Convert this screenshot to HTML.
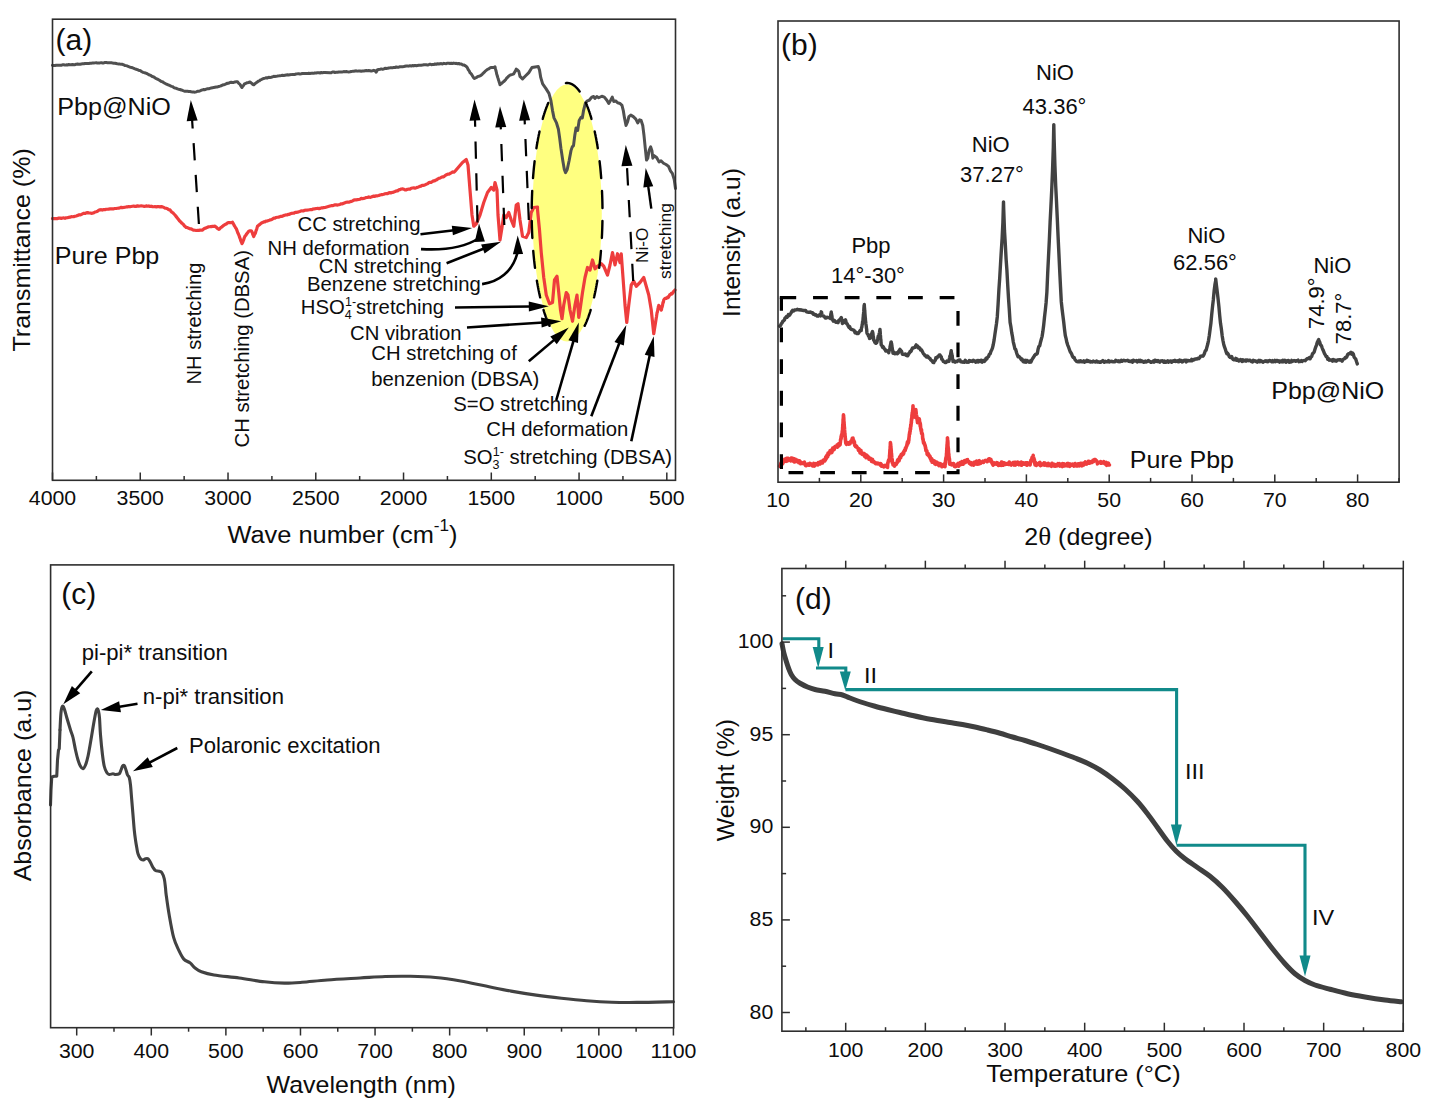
<!DOCTYPE html>
<html lang="en">
<head>
<meta charset="utf-8">
<title>Figure: FTIR, XRD, UV-vis and TGA of Pbp and Pbp@NiO</title>
<style>
html,body{margin:0;padding:0;background:#fff;}
svg{display:block;font-family:"Liberation Sans", sans-serif;}
</style>
</head>
<body>
<svg width="1435" height="1112" viewBox="0 0 1435 1112">
<rect x="0" y="0" width="1435" height="1112" fill="#ffffff"/>
<ellipse cx="567.1" cy="213" rx="34.7" ry="128.6" fill="#ffff80"/>
<polyline points="52.5,65.32 53.75,65.62 55,65.52 56.25,65.21 57.5,65.28 58.75,65.2 60,65.24 61.25,65.26 62.5,64.85 63.75,64.76 65,65.11 66.25,64.86 67.5,64.96 68.75,64.53 70,64.69 71.25,64.78 72.5,64.48 73.75,64.78 75,64.7 76.25,64.17 77.5,64.08 78.75,64.24 80,64.34 81.25,63.97 82.5,63.8 83.75,63.8 85,63.51 86.25,63.52 87.5,63.53 88.75,63.47 90,63.24 91.25,63.15 92.5,63.05 93.75,63.07 95,62.89 96.25,62.72 97.5,63.09 98.75,62.9 100,62.9 101.25,62.63 102.5,63 103.75,62.89 105,62.48 106.25,62.54 107.5,62.69 108.75,62.65 110,62.72 111.25,62.66 112.5,63.07 113.75,63.19 115,63.2 116.25,63.54 117.5,63.89 118.75,64.07 120,64.1 121.25,64.34 122.5,64.27 123.64,64.76 124.77,65.42 125.91,65.62 127.05,65.88 128.18,66.46 129.32,66.92 130.45,67.29 131.59,67.53 132.73,67.95 133.86,68.37 135,68.89 136.15,69.24 137.31,69.66 138.46,70.19 139.62,70.44 140.77,70.93 141.92,71.74 143.08,72.36 144.23,72.64 145.38,73.02 146.54,73.39 147.69,74.04 148.85,74.76 150,75.14 151.14,75.66 152.27,76.45 153.41,76.78 154.55,77.55 155.68,78.41 156.82,78.86 157.95,79.43 159.09,79.98 160.23,80.75 161.36,81.59 162.5,81.75 163.64,82.69 164.77,83.25 165.91,83.83 167.05,84.3 168.18,84.88 169.32,85.28 170.45,85.85 171.59,86.33 172.73,86.69 173.86,87.64 175,88.03 176.25,88.26 177.5,88.81 178.75,89.21 180,89.55 181.25,89.95 182.5,90.46 183.75,90.91 185,91.31 186.25,91.32 187.5,91.2 188.75,91.4 190,91.46 191.25,91.76 192.5,91.99 193.75,92.06 195,92.15 196.25,91.85 197.5,91.25 198.75,91.23 200,90.84 201.25,90.23 202.5,89.88 203.75,89.57 205,89.63 206.25,89.1 207.5,88.76 208.75,88.75 210,88.34 211.25,87.93 212.5,87.7 213.75,87.62 215,87.17 216.25,86.95 217.5,86.9 218.75,86.5 220,86.16 221.25,85.77 222.5,85.07 223.75,84.79 225,84.34 226.25,83.75 227.5,83.24 228.75,83.17 230,82.51 231.25,82.27 232.5,82.39 233.75,82.41 235,81.93 236.25,81.84 237.5,81.82 238.75,83.36 240,84.33 240.67,85.6 241.33,86.59 242,87.52 242.83,86.11 243.67,85.24 244.5,83.9 245.88,83.32 247.25,82.74 248.62,82.51 250,81.95 250.94,82.79 251.88,83.41 252.81,84.32 253.75,84.78 255,83.65 256.25,82.73 257.29,82.06 258.33,81.15 259.38,80.8 260.42,79.91 261.46,79.59 262.5,78.87 263.75,78.46 265,78.13 266.25,77.75 267.5,77.94 268.75,77.27 270,77.41 271.25,77.23 272.5,76.79 273.75,76.34 275,76.43 276.25,76.36 277.5,76.1 278.75,75.88 280,75.69 281.25,75.55 282.5,75.35 283.75,75.46 285,75.22 286.25,74.97 287.5,74.8 288.75,74.96 290,74.65 291.25,74.62 292.5,74.41 293.75,74.56 295,74.45 296.25,73.88 297.5,73.85 298.75,73.79 300,73.99 301.25,73.83 302.5,73.54 303.75,73.42 305,73.59 306.25,73.61 307.5,73.59 308.75,73.23 310,73.44 311.25,73.28 312.5,73.12 313.75,73.31 315,72.87 316.25,73.05 317.5,72.67 318.75,72.65 320,72.96 321.25,72.54 322.5,72.75 323.75,72.61 325,72.5 330,72.82 331.25,72.75 332.5,72.06 333.75,72.02 335,72.48 336.25,72.35 337.5,72.24 338.75,71.93 340,72.07 341.25,72.01 342.5,71.93 343.75,71.57 345,71.7 346.25,71.61 347.5,71.78 348.75,71.91 350,71.81 351.25,71.47 352.5,71.34 353.75,71.15 355,70.93 356.25,70.87 357.5,71.13 358.75,70.98 360,70.98 361.25,71.29 362.5,70.99 363.75,70.96 365,70.69 366.25,70.49 367.5,70.66 368.75,70.48 370,70.69 371.25,70.99 372.5,70.72 373.75,70.32 375,70.78 376.25,72.21 376.88,70.91 377.5,69.78 378.75,69.52 380,69.37 381.25,68.9 382.5,69.17 383.75,68.99 385,68.26 386.25,68.51 387.5,68.32 388.75,67.97 390,67.85 391.25,67.66 392.5,67.8 393.75,67.38 395,67.48 396.25,67.02 397.5,67.27 398.75,67.15 400,66.72 401.25,66.67 402.5,66.79 403.75,66.53 405,66.24 406.25,65.97 407.5,65.95 408.75,66.13 410,65.67 411.25,66.1 412.5,65.56 413.75,65.93 415,65.42 416.25,65.78 417.5,65.52 418.75,65.29 420,65.21 421.25,65.22 422.5,65.09 423.75,64.81 425,64.65 426.25,64.77 427.5,64.98 428.75,64.67 430,64.2 431.25,64.65 432.5,64.5 433.75,64.55 435,63.97 436.25,64.28 437.5,63.72 438.75,64.06 440,63.72 441.25,63.61 442.5,63.98 443.75,63.37 445,63.58 446.25,63.73 447.5,63.23 448.75,63.13 450,63.52 451.25,63.26 452.5,63.53 453.75,63.11 455,63.4 456.25,63.33 457.5,63.75 458.75,63.4 460,64.07 461.25,63.92 462.5,64.91 463.75,64.91 465,65.58 466.25,66.47 466.88,67.05 467.5,68.11 468.12,69.51 468.75,70.34 469.38,71.14 470,72.84 470.75,73.3 471.5,74.26 472.25,75.52 473,76.75 473.75,77.88 474.5,78.48 476,77.76 477.5,76.67 478.75,76.3 480,75.85 481.25,75.17 482.19,74.34 483.12,73.3 484.06,72.44 485,71.39 486.25,70.42 487.5,69.43 488.75,68.93 490,67.87 491.25,67.47 492.5,67.46 493.75,67.51 495,66.74 495.33,68.39 495.67,69.59 496,71.01 496.33,72.08 496.67,73.99 497,74.83 497.38,76.32 497.75,77.44 498.12,78.41 498.5,80.04 498.88,81 499.25,82.19 499.62,83.42 500,84.76 500.94,83.78 501.88,83.22 502.81,82.19 503.75,81.59 504.69,80.62 505.62,79.72 506.56,78.25 507.5,77.46 508.75,76.08 510,75.06 511.25,74.67 512.5,74.38 513.75,73.9 514.38,72.52 515,71.57 515.62,70.58 516.25,69.15 517.5,70.05 518.75,71.25 520,76.37 522.52,78.88 525.67,75.74 528.81,72.59 531.96,67.55 535.11,66.92 538.26,66.55 539.51,70.07 540.77,77.63 542.66,83.92 545.81,88.33 548.96,93.36 550.85,100.29 552.48,110.36 553.99,117.91 556.51,122.95 558.4,129.24 559.66,138.06 560.92,148.13 562.81,160.72 564.32,169.53 565.58,172.68 567.21,169.53 569.1,160.72 570.99,150.65 572.25,146.87 573.51,145.61 574.77,135.54 576.03,127.99 577.66,130.5 579.17,120.43 581.06,117.28 582.32,117.91 583.58,110.36 585.47,102.81 587.36,100.92 589.24,100.29 591.76,97.14 593.65,96.51 594.91,98.4 596.8,96.51 598.69,97.77 601.83,96.26 604.35,97.14 606.87,100.29 608.76,103.44 610.65,100.29 612.28,97.14 613.79,101.55 615.68,100.92 617.57,102.81 620.09,103.44 621.98,105.32 623.24,110.36 624.5,117.91 626.01,125.47 627.64,121.69 628.9,116.65 630.79,115.14 633.31,116.65 635.83,119.17 637.72,122.95 639.6,119.8 641.12,120.43 642.75,125.47 644.01,135.54 645.27,148.13 646.53,160.09 647.79,158.2 649.05,150.65 650.68,146.87 651.94,150.65 652.82,158.2 654.08,155.68 656.6,157.57 659.12,161.98 661.01,160.72 663.53,163.24 666.04,164.5 668.56,166.38 670.45,170.79 672.34,173.31 674.23,179.6 675.49,188.42" fill="none" stroke="#505050" stroke-width="3" stroke-linejoin="round" stroke-linecap="round" />
<polyline points="52.5,218.59 53.75,218.7 55,218.52 56.25,218.59 57.5,218.53 58.75,218.11 60,218.01 61.25,218.43 62.5,218.01 63.75,217.92 65,218.3 66.25,217.76 67.5,217.76 68.75,217.33 70,217.21 71.25,216.7 72.5,216.77 73.75,216.69 75,216.26 76.25,216.02 77.5,215.6 78.75,214.86 80,214.9 81.25,214.43 82.5,213.88 83.75,213.34 85,213.47 86.25,212.86 87.5,212.63 88.75,212.91 90,213 91.25,213.32 92.5,213.19 93.75,212.81 95,211.97 96.25,211.76 97.5,211.23 98.75,210.26 100,209.78 101.25,209.71 102.5,210.03 103.75,209.59 105,209.58 106.25,209.26 107.5,209.25 108.75,209.06 110,208.91 111.25,208.93 112.5,208.8 113.75,208.82 115,208.51 116.25,208.48 117.5,208.26 118.75,208.17 120,207.8 121.25,207.32 122.5,207.57 123.75,207.45 125,207.24 126.25,206.94 127.5,206.93 128.75,206.53 130,206.8 131.25,206.54 132.5,206.27 133.75,206.04 135,206.41 136.25,206.39 137.5,205.75 138.75,206.21 140,206 141.25,205.87 142.5,205.98 143.75,206.29 145,206.37 146.25,205.9 147.5,206.27 148.75,205.95 150,206.38 151.25,206.22 152.5,206.63 153.75,206.76 155,206.55 156.25,206.92 157.5,206.59 158.75,206.52 160,206.91 161.25,206.64 162.5,206.82 163.75,207.44 165,208.07 166.25,208.29 167.5,208.73 168.75,209.72 170,209.89 171,211.28 172,212.24 173,212.93 174,213.98 175,215.01 175.83,216.13 176.67,217.14 177.5,218.16 178.33,219.24 179.17,220.47 180,221.25 180.89,222.1 181.79,223.17 182.68,223.77 183.57,224.7 184.46,226 185.36,226.62 186.25,227.53 187.5,227.64 188.75,228.31 190,228.83 191.25,228.93 192.5,229.71 193.75,230.15 195,230.24 196.25,230.49 197.5,230.31 198.75,230.36 200,230.08 201.25,230.21 202.5,230.14 203.75,228.96 205,228.24 206.25,227.86 207.5,227.28 208.75,226.73 210,226.72 211.25,226.68 212.5,226.39 213.75,226.29 215,226.14 215.94,226.98 216.88,227.93 217.81,228.57 218.75,229.43 219.69,228.85 220.62,227.59 221.56,227.1 222.5,226.39 223.75,225.32 225,224.46 226.25,223.99 227.5,222.84 228.75,222.69 230,222.71 231.25,222.74 232.5,222.26 233.12,223.43 233.75,224.48 234.38,225.83 235,226.63 235.62,227.92 236.25,228.55 236.75,229.9 237.25,231.34 237.75,232.73 238.25,233.72 238.75,234.84 239.21,236.02 239.68,237.52 240.14,238.56 240.61,240.18 241.07,241.45 241.54,242.31 242,243.62 242.5,242.68 243,241.34 243.5,240.18 244,238.66 244.5,237.28 245,236.13 245.75,235.43 246.5,234.11 247.25,233.16 248,232.2 248.75,231.2 250,230.82 251.25,230.75 251.75,231.44 252.25,232.5 252.75,234.22 253.25,235.33 253.75,236.54 254.33,234.96 254.92,234.02 255.5,232.76 255.9,231.08 256.3,230.15 256.7,228.95 257.1,227.6 257.5,226.26 258.5,225.37 259.5,224.65 260.5,223.84 261.5,222.99 262.5,222.55 263.64,221.96 264.77,221.87 265.91,221 267.05,221.11 268.18,220.57 269.32,220.3 270.45,219.87 271.59,219.47 272.73,218.86 273.86,218.12 275,218.15 276.19,217.48 277.38,217.24 278.57,217.13 279.76,216.73 280.95,216.34 282.14,216.33 283.33,215.82 284.52,215.33 285.71,214.96 286.9,215 288.1,214.45 289.29,214.31 290.48,213.73 291.67,213.32 292.86,213.2 294.05,213.05 295.24,212.34 296.43,212.39 297.62,212.15 298.81,211.76 300,211.44 301.19,210.78 302.38,210.97 303.57,210.93 304.76,210.27 305.95,210.22 307.14,210.04 308.33,210.02 309.52,209.78 310.71,209.63 311.9,209.63 313.1,208.99 314.29,208.84 315.48,208.7 316.67,208.52 317.86,208.31 319.05,208.68 320.24,208.43 321.43,207.79 322.62,207.86 323.81,207.57 325,207.5 330,206.04 331.25,205.68 332.5,205.67 333.75,205.22 335,204.9 336.25,204.92 337.5,205.08 338.75,204.74 340,204.46 341.25,203.78 342.5,203.78 343.75,203.2 345,202.74 346.25,202.31 347.5,202.02 348.75,202.22 350,201.76 351.25,201.37 352.5,200.99 353.75,200.13 355,199.85 356.25,199.85 357.5,199.69 358.75,199.53 360,199.3 361.25,198.42 362.5,198.58 363.75,198.39 365,198 366.25,197.49 367.5,197.48 368.75,196.92 370,197.35 371.25,197.04 372.5,196.54 373.75,196.09 375,196.33 376.25,195.81 377.5,195.81 378.75,195.53 380,195.01 381.25,194.68 382.5,194.58 383.75,194.19 385,193.73 386.25,193.59 387.5,193.75 388.75,192.88 390,192.64 391.25,192.85 392.5,192.32 393.75,192.06 395,191.54 396.25,190.97 397.5,191.02 398.75,189.91 400,189.62 401.25,188.98 402.5,188.86 403.75,189.2 405,189.88 406.25,189.89 407.5,189.23 408.75,189.11 410,189.07 411.25,188.22 412.5,187.98 413.75,187.91 415,188.13 416.25,187.8 417.5,187.29 418.64,186.91 419.77,186.33 420.91,186.1 422.05,185.32 423.18,185.39 424.32,185.09 425.45,184.68 426.59,184.05 427.73,183.78 428.86,182.57 430,182.33 431.14,182.37 432.27,181.72 433.41,180.93 434.55,180.85 435.68,180.1 436.82,179.75 437.95,178.83 439.09,178.25 440.23,177.96 441.36,177.21 442.5,176.91 443.64,176.85 444.77,175.82 445.91,175.04 447.05,174.54 448.18,174.12 449.32,174.09 450.45,173.23 451.59,172.65 452.73,171.97 453.86,172.16 455,171.25 462.5,162.5 466.25,159.5 468,165 470,190 472,215 473.75,226.25 476.25,223.75 480,215 483.75,202.5 487.5,192.5 491.25,187.5 493.75,190 495,182.5 497,190 498,215 500,240 502,227.5 503.75,215 506.25,217.5 508.75,212.5 511.25,220 513.75,226.25 516.25,205 518,203.75 520,220 522.5,236.25 526.25,237.5 528.75,232.5 531.25,212.5 533.75,207.5 537.5,207 537.5,209.5 539.5,230 541.25,252.5 543.75,277.5 546.25,295 549.5,303.75 552.5,302.5 554.5,280 557,276.25 558.75,292.5 560.5,310 562,318.75 563.75,305 566.25,292.5 568,295 570,310 572.5,321.25 575,305 577,295 578.75,317.5 580,310 582.5,292.5 585,277.5 587.5,267.5 590,270 592.5,260 595,268.75 597.5,266.25 601.25,263.75 603.75,266.25 607.5,275 610,265 612.5,252.5 615,265 617.5,253.75 620,262.5 621.25,253.75 623,277.5 625,305 626.75,322.5 628.75,305 631.25,285 633.75,281.25 636.25,286.25 640,282.5 643.75,277.5 646.25,286.25 648.75,295 651.25,310 653.75,333.75 656.25,318.03 656.46,317.04 656.67,315.39 656.88,313.95 657.08,312.43 657.29,312.58 657.5,311.2 657.71,310.68 657.92,308.94 658.12,308.61 658.33,306.67 658.54,306.59 658.75,305.41 659.25,305.85 659.75,307.07 660.25,308.33 660.75,308.45 661.25,310.1 661.5,309.55 661.75,307.58 662,307.55 662.25,306.33 662.5,305.62 662.75,303.7 663,302.27 663.25,302.54 663.5,301.55 663.75,299.9 664.69,298.64 665.62,298.2 666.56,298.37 667.5,297.12 668.25,297.56 669,296.16 669.75,294.71 670.5,294.78 671.25,293.5 672,293.78 672.75,292.99 673.5,291.53 674.25,291.01 675,290" fill="none" stroke="#ee3d3d" stroke-width="3.2" stroke-linejoin="round" stroke-linecap="round" />
<polyline points="602.5,213 602.5,212.48 602.5,211.96 602.5,211.44 602.5,210.92 602.49,210.4 602.49,209.88 602.49,209.36 602.48,208.84 602.48,208.32 602.47,207.8 602.47,207.28 602.46,206.76 602.45,206.24 602.44,205.72 602.44,205.2 602.43,204.69 602.42,204.17 602.41,203.65 602.4,203.13 602.39,202.61 602.38,202.09 602.36,201.57 602.35,201.06 602.34,200.54 602.32,200.02 602.31,199.5 602.29,198.99 602.28,198.47 602.26,197.95 602.25,197.44 602.23,196.92 602.21,196.41 602.19,195.89 602.17,195.37 602.15,194.86 602.13,194.34 602.11,193.83 602.09,193.32 602.07,192.8 602.05,192.29 602.03,191.78 602,191.26 601.98,190.75 601.95,190.24 601.93,189.73 601.9,189.21 601.88,188.7 601.85,188.19 601.82,187.68 601.79,187.17 601.77,186.66 601.74,186.15 601.71,185.65 601.68,185.14 601.65,184.63 601.62,184.12 601.58,183.62 601.55,183.11 601.52,182.6 601.49,182.1 601.45,181.59 601.42,181.09 601.38,180.59 601.35,180.08 601.31,179.58 601.27,179.08 601.24,178.58 601.2,178.07 601.16,177.57 601.12,177.07 601.08,176.57 601.04,176.08 601,175.58 600.96,175.08 600.92,174.58 600.88,174.09 600.83,173.59 600.79,173.09 600.75,172.6 600.7,172.11 600.66,171.61 600.61,171.12 600.57,170.63 600.52,170.14 600.47,169.65 600.43,169.16 600.38,168.67 600.33,168.18 600.28,167.69 600.23,167.2 600.18,166.72 600.13,166.23 600.08,165.75 600.03,165.26 599.97,164.78 599.92,164.3 599.87,163.82 599.81,163.34 599.76,162.85 599.71,162.38 599.65,161.9 599.59,161.42 599.54,160.94 599.48,160.47 599.42,159.99 599.37,159.52 599.31,159.04 599.25,158.57 599.19,158.1 599.13,157.63 599.07,157.16 599.01,156.69 598.94,156.22 598.88,155.75 598.82,155.29 598.76,154.82 598.69,154.36 598.63,153.89 598.56,153.43 598.5,152.97 598.43,152.51 598.37,152.05 598.3,151.59 598.23,151.13 598.17,150.67 598.1,150.22 598.03,149.76 597.96,149.31 597.89,148.86 597.82,148.41 597.75,147.95 597.68,147.51 597.61,147.06 597.54,146.61 597.46,146.16 597.39,145.72 597.32,145.27 597.24,144.83 597.17,144.39 597.09,143.95 597.02,143.51 596.94,143.07 596.87,142.63 596.79,142.19 596.71,141.76 596.63,141.32 596.55,140.89 596.48,140.46 596.4,140.03 596.32,139.6 596.24,139.17 596.16,138.74 596.07,138.31 595.99,137.89 595.91,137.47 595.83,137.04 595.75,136.62 595.66,136.2 595.58,135.78 595.49,135.36 595.41,134.95 595.32,134.53 595.24,134.12 595.15,133.71 595.07,133.29 594.98,132.88 594.89,132.48 594.8,132.07 594.71,131.66 594.63,131.26 594.54,130.85 594.45,130.45 594.36,130.05 594.27,129.65 594.18,129.25 594.08,128.85 593.99,128.46 593.9,128.06 593.81,127.67 593.71,127.28 593.62,126.89 593.53,126.5 593.43,126.11 593.34,125.73 593.24,125.34 593.15,124.96 593.05,124.58 592.95,124.2 592.86,123.82 592.76,123.44 592.66,123.06 592.56,122.69 592.46,122.32 592.37,121.94 592.27,121.57 592.17,121.2 592.07,120.84 591.97,120.47 591.86,120.11 591.76,119.74 591.66,119.38 591.56,119.02 591.46,118.66 591.35,118.31 591.25,117.95 591.15,117.6 591.04,117.24 590.94,116.89 590.83,116.54 590.73,116.2 590.62,115.85 590.52,115.51 590.41,115.16 590.3,114.82 590.2,114.48 590.09,114.14 589.98,113.81 589.87,113.47 589.76,113.14 589.66,112.8 589.55,112.47 589.44,112.14 589.33,111.82 589.22,111.49 589.1,111.17 588.99,110.85 588.88,110.52 588.77,110.21 588.66,109.89 588.55,109.57 588.43,109.26 588.32,108.95 588.21,108.63 588.09,108.32 587.98,108.02 587.86,107.71 587.75,107.41 587.63,107.1 587.52,106.8 587.4,106.51 587.29,106.21 587.17,105.91 587.05,105.62 586.94,105.33 586.82,105.04 586.7,104.75 586.58,104.46 586.46,104.17 586.35,103.89 586.23,103.61 586.11,103.33 585.99,103.05 585.87,102.77 585.75,102.5 585.63,102.23 585.51,101.95 585.39,101.69 585.26,101.42 585.14,101.15 585.02,100.89 584.9,100.63 584.78,100.36 584.65,100.11 584.53,99.85 584.41,99.59 584.28,99.34 584.16,99.09 584.03,98.84 583.91,98.59 583.79,98.35 583.66,98.1 583.53,97.86 583.41,97.62 583.28,97.38 583.16,97.14 583.03,96.91 582.9,96.68 582.78,96.44 582.65,96.21 582.52,95.99 582.4,95.76 582.27,95.54 582.14,95.32 582.01,95.1 581.88,94.88 581.75,94.66 581.63,94.45 581.5,94.23 581.37,94.02 581.24,93.82 581.11,93.61 580.98,93.4 580.85,93.2 580.72,93 580.58,92.8 580.45,92.6 580.32,92.41 580.19,92.22 580.06,92.02 579.93,91.83 579.8,91.65 579.66,91.46 579.53,91.28 579.4,91.1 579.27,90.92 579.13,90.74 579,90.56 578.87,90.39 578.73,90.22 578.6,90.05 578.46,89.88 578.33,89.71 578.2,89.55 578.06,89.39 577.93,89.23 577.79,89.07 577.66,88.91 577.52,88.76 577.39,88.61 577.25,88.46 577.11,88.31 576.98,88.16 576.84,88.02 576.71,87.88 576.57,87.74 576.43,87.6 576.3,87.46 576.16,87.33 576.02,87.2 575.89,87.07 575.75,86.94 575.61,86.81 575.47,86.69 575.34,86.57 575.2,86.45 575.06,86.33 574.92,86.21 574.78,86.1 574.65,85.99 574.51,85.88 574.37,85.77 574.23,85.66 574.09,85.56 573.95,85.46 573.81,85.36 573.67,85.26 573.54,85.17 573.4,85.07 573.26,84.98 573.12,84.89 572.98,84.8 572.84,84.72 572.7,84.64 572.56,84.55 572.42,84.48 572.28,84.4 572.14,84.32 572,84.25 571.86,84.18 571.72,84.11 571.58,84.04 571.44,83.98 571.3,83.92 571.15,83.86 571.01,83.8 570.87,83.74 570.73,83.69 570.59,83.63 570.45,83.58 570.31,83.54 570.17,83.49 570.03,83.45 569.89,83.4 569.75,83.36 569.6,83.33 569.46,83.29 569.32,83.26 569.18,83.22 569.04,83.2 568.9,83.17 568.76,83.14 568.61,83.12 568.47,83.1 568.33,83.08 568.19,83.06 568.05,83.05 567.91,83.03 567.77,83.02 567.62,83.01 567.48,83.01 567.34,83 567.2,83 567.06,83 566.92,83 566.77,83.01 566.63,83.01 566.49,83.02 566.35,83.03 566.21,83.04 566.07,83.06 565.92,83.07 565.78,83.09 565.64,83.11 565.5,83.13 565.36,83.16 565.22,83.18 565.08,83.21 564.93,83.24 564.79,83.28 564.65,83.31 564.51,83.35 564.37,83.39 564.23,83.43 564.09,83.47 563.95,83.52 563.81,83.56 563.66,83.61 563.52,83.67 563.38,83.72 563.24,83.77 563.1,83.83 562.96,83.89" fill="none" stroke="#000" stroke-width="2.4" stroke-linejoin="round" stroke-linecap="round" stroke-dasharray="17 13" stroke-dashoffset="25"/>
<polyline points="602.5,213 602.5,213.52 602.5,214.04 602.5,214.56 602.5,215.08 602.49,215.6 602.49,216.12 602.49,216.64 602.48,217.16 602.48,217.68 602.47,218.2 602.47,218.72 602.46,219.24 602.45,219.76 602.44,220.28 602.44,220.8 602.43,221.31 602.42,221.83 602.41,222.35 602.4,222.87 602.39,223.39 602.38,223.91 602.36,224.43 602.35,224.94 602.34,225.46 602.32,225.98 602.31,226.5 602.29,227.01 602.28,227.53 602.26,228.05 602.25,228.56 602.23,229.08 602.21,229.59 602.19,230.11 602.17,230.63 602.15,231.14 602.13,231.66 602.11,232.17 602.09,232.68 602.07,233.2 602.05,233.71 602.03,234.22 602,234.74 601.98,235.25 601.95,235.76 601.93,236.27 601.9,236.79 601.88,237.3 601.85,237.81 601.82,238.32 601.79,238.83 601.77,239.34 601.74,239.85 601.71,240.35 601.68,240.86 601.65,241.37 601.62,241.88 601.58,242.38 601.55,242.89 601.52,243.4 601.49,243.9 601.45,244.41 601.42,244.91 601.38,245.41 601.35,245.92 601.31,246.42 601.27,246.92 601.24,247.42 601.2,247.93 601.16,248.43 601.12,248.93 601.08,249.43 601.04,249.92 601,250.42 600.96,250.92 600.92,251.42 600.88,251.91 600.83,252.41 600.79,252.91 600.75,253.4 600.7,253.89 600.66,254.39 600.61,254.88 600.57,255.37 600.52,255.86 600.47,256.35 600.43,256.84 600.38,257.33 600.33,257.82 600.28,258.31 600.23,258.8 600.18,259.28 600.13,259.77 600.08,260.25 600.03,260.74 599.97,261.22 599.92,261.7 599.87,262.18 599.81,262.66 599.76,263.15 599.71,263.62 599.65,264.1 599.59,264.58 599.54,265.06 599.48,265.53 599.42,266.01 599.37,266.48 599.31,266.96 599.25,267.43 599.19,267.9 599.13,268.37 599.07,268.84 599.01,269.31 598.94,269.78 598.88,270.25 598.82,270.71 598.76,271.18 598.69,271.64 598.63,272.11 598.56,272.57 598.5,273.03 598.43,273.49 598.37,273.95 598.3,274.41 598.23,274.87 598.17,275.33 598.1,275.78 598.03,276.24 597.96,276.69 597.89,277.14 597.82,277.59 597.75,278.05 597.68,278.49 597.61,278.94 597.54,279.39 597.46,279.84 597.39,280.28 597.32,280.73 597.24,281.17 597.17,281.61 597.09,282.05 597.02,282.49 596.94,282.93 596.87,283.37 596.79,283.81 596.71,284.24 596.63,284.68 596.55,285.11 596.48,285.54 596.4,285.97 596.32,286.4 596.24,286.83 596.16,287.26 596.07,287.69 595.99,288.11 595.91,288.53 595.83,288.96 595.75,289.38 595.66,289.8 595.58,290.22 595.49,290.64 595.41,291.05 595.32,291.47 595.24,291.88 595.15,292.29 595.07,292.71 594.98,293.12 594.89,293.52 594.8,293.93 594.71,294.34 594.63,294.74 594.54,295.15 594.45,295.55 594.36,295.95 594.27,296.35 594.18,296.75 594.08,297.15 593.99,297.54 593.9,297.94 593.81,298.33 593.71,298.72 593.62,299.11 593.53,299.5 593.43,299.89 593.34,300.27 593.24,300.66 593.15,301.04 593.05,301.42 592.95,301.8 592.86,302.18 592.76,302.56 592.66,302.94 592.56,303.31 592.46,303.68 592.37,304.06 592.27,304.43 592.17,304.8 592.07,305.16 591.97,305.53 591.86,305.89 591.76,306.26 591.66,306.62 591.56,306.98 591.46,307.34 591.35,307.69 591.25,308.05 591.15,308.4 591.04,308.76 590.94,309.11 590.83,309.46 590.73,309.8 590.62,310.15 590.52,310.49 590.41,310.84 590.3,311.18 590.2,311.52 590.09,311.86 589.98,312.19 589.87,312.53 589.76,312.86 589.66,313.2 589.55,313.53 589.44,313.86 589.33,314.18 589.22,314.51 589.1,314.83 588.99,315.15 588.88,315.48 588.77,315.79 588.66,316.11 588.55,316.43 588.43,316.74 588.32,317.05 588.21,317.37 588.09,317.68 587.98,317.98 587.86,318.29 587.75,318.59 587.63,318.9 587.52,319.2 587.4,319.49 587.29,319.79 587.17,320.09 587.05,320.38 586.94,320.67 586.82,320.96 586.7,321.25 586.58,321.54 586.46,321.83 586.35,322.11 586.23,322.39 586.11,322.67 585.99,322.95 585.87,323.23 585.75,323.5 585.63,323.77 585.51,324.05 585.39,324.31 585.26,324.58 585.14,324.85 585.02,325.11 584.9,325.37 584.78,325.64 584.65,325.89 584.53,326.15 584.41,326.41 584.28,326.66 584.16,326.91" fill="none" stroke="#000" stroke-width="2.4" stroke-linejoin="round" stroke-linecap="round" stroke-dasharray="17 13" stroke-dashoffset="22"/>
<polyline points="531.7,213 531.7,212.48 531.7,211.96 531.7,211.44 531.7,210.92 531.71,210.4 531.71,209.88 531.71,209.36 531.72,208.84 531.72,208.32 531.73,207.8 531.73,207.28 531.74,206.76 531.75,206.24 531.76,205.72 531.76,205.2 531.77,204.69 531.78,204.17 531.79,203.65 531.8,203.13 531.81,202.61 531.82,202.09 531.84,201.57 531.85,201.06 531.86,200.54 531.88,200.02 531.89,199.5 531.91,198.99 531.92,198.47 531.94,197.95 531.95,197.44 531.97,196.92 531.99,196.41 532.01,195.89 532.03,195.37 532.05,194.86 532.07,194.34 532.09,193.83 532.11,193.32 532.13,192.8 532.15,192.29 532.17,191.78 532.2,191.26 532.22,190.75 532.25,190.24 532.27,189.73 532.3,189.21 532.32,188.7 532.35,188.19 532.38,187.68 532.41,187.17 532.43,186.66 532.46,186.15 532.49,185.65 532.52,185.14 532.55,184.63 532.58,184.12 532.62,183.62 532.65,183.11 532.68,182.6 532.71,182.1 532.75,181.59 532.78,181.09 532.82,180.59 532.85,180.08 532.89,179.58 532.93,179.08 532.96,178.58 533,178.07 533.04,177.57 533.08,177.07 533.12,176.57 533.16,176.08 533.2,175.58 533.24,175.08 533.28,174.58 533.32,174.09 533.37,173.59 533.41,173.09 533.45,172.6 533.5,172.11 533.54,171.61 533.59,171.12 533.63,170.63 533.68,170.14 533.73,169.65 533.77,169.16 533.82,168.67 533.87,168.18 533.92,167.69 533.97,167.2 534.02,166.72 534.07,166.23 534.12,165.75 534.17,165.26 534.23,164.78 534.28,164.3 534.33,163.82 534.39,163.34 534.44,162.85 534.49,162.38 534.55,161.9 534.61,161.42 534.66,160.94 534.72,160.47 534.78,159.99 534.83,159.52 534.89,159.04 534.95,158.57 535.01,158.1 535.07,157.63 535.13,157.16 535.19,156.69 535.26,156.22 535.32,155.75 535.38,155.29 535.44,154.82 535.51,154.36 535.57,153.89 535.64,153.43 535.7,152.97 535.77,152.51 535.83,152.05 535.9,151.59 535.97,151.13 536.03,150.67 536.1,150.22 536.17,149.76 536.24,149.31 536.31,148.86 536.38,148.41 536.45,147.95 536.52,147.51 536.59,147.06 536.66,146.61 536.74,146.16 536.81,145.72 536.88,145.27 536.96,144.83 537.03,144.39 537.11,143.95 537.18,143.51 537.26,143.07 537.33,142.63 537.41,142.19 537.49,141.76 537.57,141.32 537.65,140.89 537.72,140.46 537.8,140.03 537.88,139.6 537.96,139.17 538.04,138.74 538.13,138.31 538.21,137.89 538.29,137.47 538.37,137.04 538.45,136.62 538.54,136.2 538.62,135.78 538.71,135.36 538.79,134.95 538.88,134.53 538.96,134.12 539.05,133.71 539.13,133.29 539.22,132.88 539.31,132.48 539.4,132.07 539.49,131.66 539.57,131.26 539.66,130.85 539.75,130.45 539.84,130.05 539.93,129.65 540.02,129.25 540.12,128.85 540.21,128.46 540.3,128.06 540.39,127.67 540.49,127.28 540.58,126.89 540.67,126.5 540.77,126.11 540.86,125.73 540.96,125.34 541.05,124.96 541.15,124.58 541.25,124.2 541.34,123.82 541.44,123.44 541.54,123.06 541.64,122.69 541.74,122.32 541.83,121.94 541.93,121.57 542.03,121.2 542.13,120.84 542.23,120.47 542.34,120.11 542.44,119.74 542.54,119.38 542.64,119.02 542.74,118.66 542.85,118.31 542.95,117.95 543.05,117.6 543.16,117.24 543.26,116.89 543.37,116.54 543.47,116.2 543.58,115.85 543.68,115.51 543.79,115.16 543.9,114.82 544,114.48 544.11,114.14 544.22,113.81 544.33,113.47 544.44,113.14 544.54,112.8 544.65,112.47 544.76,112.14 544.87,111.82 544.98,111.49 545.1,111.17 545.21,110.85 545.32,110.52 545.43,110.21 545.54,109.89 545.65,109.57 545.77,109.26 545.88,108.95 545.99,108.63 546.11,108.32 546.22,108.02 546.34,107.71 546.45,107.41 546.57,107.1 546.68,106.8 546.8,106.51 546.91,106.21 547.03,105.91 547.15,105.62 547.26,105.33 547.38,105.04 547.5,104.75 547.62,104.46 547.74,104.17 547.85,103.89 547.97,103.61 548.09,103.33 548.21,103.05 548.33,102.77 548.45,102.5 548.57,102.23 548.69,101.95" fill="none" stroke="#000" stroke-width="2.4" stroke-linejoin="round" stroke-linecap="round" stroke-dasharray="17 13" stroke-dashoffset="25"/>
<polyline points="531.7,213 531.7,213.52 531.7,214.04 531.7,214.56 531.7,215.08 531.71,215.6 531.71,216.12 531.71,216.64 531.72,217.16 531.72,217.68 531.73,218.2 531.73,218.72 531.74,219.24 531.75,219.76 531.76,220.28 531.76,220.8 531.77,221.31 531.78,221.83 531.79,222.35 531.8,222.87 531.81,223.39 531.82,223.91 531.84,224.43 531.85,224.94 531.86,225.46 531.88,225.98 531.89,226.5 531.91,227.01 531.92,227.53 531.94,228.05 531.95,228.56 531.97,229.08 531.99,229.59 532.01,230.11 532.03,230.63 532.05,231.14 532.07,231.66 532.09,232.17 532.11,232.68 532.13,233.2 532.15,233.71 532.17,234.22 532.2,234.74 532.22,235.25 532.25,235.76 532.27,236.27 532.3,236.79 532.32,237.3 532.35,237.81 532.38,238.32 532.41,238.83 532.43,239.34 532.46,239.85 532.49,240.35 532.52,240.86 532.55,241.37 532.58,241.88 532.62,242.38 532.65,242.89 532.68,243.4 532.71,243.9 532.75,244.41 532.78,244.91 532.82,245.41 532.85,245.92 532.89,246.42 532.93,246.92 532.96,247.42 533,247.93 533.04,248.43 533.08,248.93 533.12,249.43 533.16,249.92 533.2,250.42 533.24,250.92 533.28,251.42 533.32,251.91 533.37,252.41 533.41,252.91 533.45,253.4 533.5,253.89 533.54,254.39 533.59,254.88 533.63,255.37 533.68,255.86 533.73,256.35 533.77,256.84 533.82,257.33 533.87,257.82 533.92,258.31 533.97,258.8 534.02,259.28 534.07,259.77 534.12,260.25 534.17,260.74 534.23,261.22 534.28,261.7 534.33,262.18 534.39,262.66 534.44,263.15 534.49,263.62 534.55,264.1 534.61,264.58 534.66,265.06 534.72,265.53 534.78,266.01 534.83,266.48 534.89,266.96 534.95,267.43 535.01,267.9 535.07,268.37 535.13,268.84 535.19,269.31 535.26,269.78 535.32,270.25 535.38,270.71 535.44,271.18 535.51,271.64 535.57,272.11 535.64,272.57 535.7,273.03 535.77,273.49 535.83,273.95 535.9,274.41 535.97,274.87 536.03,275.33 536.1,275.78 536.17,276.24 536.24,276.69 536.31,277.14 536.38,277.59 536.45,278.05 536.52,278.49 536.59,278.94 536.66,279.39 536.74,279.84 536.81,280.28 536.88,280.73 536.96,281.17 537.03,281.61 537.11,282.05 537.18,282.49 537.26,282.93 537.33,283.37 537.41,283.81 537.49,284.24 537.57,284.68 537.65,285.11 537.72,285.54 537.8,285.97 537.88,286.4 537.96,286.83 538.04,287.26 538.13,287.69 538.21,288.11 538.29,288.53 538.37,288.96 538.45,289.38 538.54,289.8 538.62,290.22 538.71,290.64 538.79,291.05 538.88,291.47 538.96,291.88 539.05,292.29 539.13,292.71 539.22,293.12 539.31,293.52 539.4,293.93 539.49,294.34 539.57,294.74 539.66,295.15 539.75,295.55 539.84,295.95 539.93,296.35 540.02,296.75 540.12,297.15 540.21,297.54 540.3,297.94 540.39,298.33 540.49,298.72 540.58,299.11 540.67,299.5 540.77,299.89 540.86,300.27 540.96,300.66 541.05,301.04 541.15,301.42 541.25,301.8 541.34,302.18 541.44,302.56 541.54,302.94 541.64,303.31 541.74,303.68 541.83,304.06 541.93,304.43 542.03,304.8 542.13,305.16 542.23,305.53 542.34,305.89 542.44,306.26 542.54,306.62 542.64,306.98 542.74,307.34 542.85,307.69 542.95,308.05 543.05,308.4 543.16,308.76 543.26,309.11 543.37,309.46 543.47,309.8 543.58,310.15 543.68,310.49 543.79,310.84 543.9,311.18 544,311.52 544.11,311.86 544.22,312.19 544.33,312.53 544.44,312.86 544.54,313.2 544.65,313.53 544.76,313.86 544.87,314.18 544.98,314.51 545.1,314.83 545.21,315.15 545.32,315.48 545.43,315.79 545.54,316.11 545.65,316.43 545.77,316.74 545.88,317.05 545.99,317.37 546.11,317.68 546.22,317.98 546.34,318.29 546.45,318.59 546.57,318.9 546.68,319.2 546.8,319.49 546.91,319.79 547.03,320.09 547.15,320.38 547.26,320.67 547.38,320.96 547.5,321.25 547.62,321.54 547.74,321.83 547.85,322.11 547.97,322.39 548.09,322.67 548.21,322.95 548.33,323.23 548.45,323.5 548.57,323.77 548.69,324.05 548.81,324.31 548.94,324.58 549.06,324.85 549.18,325.11 549.3,325.37 549.42,325.64 549.55,325.89 549.67,326.15 549.79,326.41 549.92,326.66 550.04,326.91" fill="none" stroke="#000" stroke-width="2.4" stroke-linejoin="round" stroke-linecap="round" stroke-dasharray="17 13" stroke-dashoffset="22"/>
<rect x="52.5" y="19.2" width="623" height="461.1" fill="none" stroke="#2e2e2e" stroke-width="1.6"/>
<line x1="52.5" y1="480.3" x2="52.5" y2="472.5" stroke="#2e2e2e" stroke-width="1.5" />
<text font-size="21.09" text-anchor="middle" fill="#0d0d0d" transform="translate(52.5 505.3) scale(1.01 1)" >4000</text>
<line x1="96.38" y1="480.3" x2="96.38" y2="476" stroke="#2e2e2e" stroke-width="1.5" />
<line x1="140.26" y1="480.3" x2="140.26" y2="472.5" stroke="#2e2e2e" stroke-width="1.5" />
<text font-size="21.09" text-anchor="middle" fill="#0d0d0d" transform="translate(140.26 505.3) scale(1.01 1)" >3500</text>
<line x1="184.14" y1="480.3" x2="184.14" y2="476" stroke="#2e2e2e" stroke-width="1.5" />
<line x1="228.02" y1="480.3" x2="228.02" y2="472.5" stroke="#2e2e2e" stroke-width="1.5" />
<text font-size="21.09" text-anchor="middle" fill="#0d0d0d" transform="translate(228.02 505.3) scale(1.01 1)" >3000</text>
<line x1="271.9" y1="480.3" x2="271.9" y2="476" stroke="#2e2e2e" stroke-width="1.5" />
<line x1="315.78" y1="480.3" x2="315.78" y2="472.5" stroke="#2e2e2e" stroke-width="1.5" />
<text font-size="21.09" text-anchor="middle" fill="#0d0d0d" transform="translate(315.78 505.3) scale(1.01 1)" >2500</text>
<line x1="359.66" y1="480.3" x2="359.66" y2="476" stroke="#2e2e2e" stroke-width="1.5" />
<line x1="403.54" y1="480.3" x2="403.54" y2="472.5" stroke="#2e2e2e" stroke-width="1.5" />
<text font-size="21.09" text-anchor="middle" fill="#0d0d0d" transform="translate(403.54 505.3) scale(1.01 1)" >2000</text>
<line x1="447.42" y1="480.3" x2="447.42" y2="476" stroke="#2e2e2e" stroke-width="1.5" />
<line x1="491.3" y1="480.3" x2="491.3" y2="472.5" stroke="#2e2e2e" stroke-width="1.5" />
<text font-size="21.09" text-anchor="middle" fill="#0d0d0d" transform="translate(491.3 505.3) scale(1.01 1)" >1500</text>
<line x1="535.18" y1="480.3" x2="535.18" y2="476" stroke="#2e2e2e" stroke-width="1.5" />
<line x1="579.06" y1="480.3" x2="579.06" y2="472.5" stroke="#2e2e2e" stroke-width="1.5" />
<text font-size="21.09" text-anchor="middle" fill="#0d0d0d" transform="translate(579.06 505.3) scale(1.01 1)" >1000</text>
<line x1="622.94" y1="480.3" x2="622.94" y2="476" stroke="#2e2e2e" stroke-width="1.5" />
<line x1="666.82" y1="480.3" x2="666.82" y2="472.5" stroke="#2e2e2e" stroke-width="1.5" />
<text font-size="21.09" text-anchor="middle" fill="#0d0d0d" transform="translate(666.82 505.3) scale(1.01 1)" >500</text>
<text font-size="24.04" text-anchor="middle" fill="#0d0d0d" transform="translate(30.4 249.9) rotate(-90) scale(1.04 1)" >Transmittance (%)</text>
<text font-size="24.42" text-anchor="start" fill="#0d0d0d" transform="translate(227.4 542.9) scale(1.04 1)" >Wave number (cm<tspan dy="-11.5" font-size="16.5">-1</tspan><tspan dy="11.5">)</tspan></text>
<text font-size="28.85" text-anchor="start" fill="#0d0d0d" transform="translate(55.6 49.6) scale(1.04 1)" >(a)</text>
<text font-size="24.23" text-anchor="start" fill="#0d0d0d" transform="translate(57.2 114.8) scale(1.04 1)" >Pbp@NiO</text>
<text font-size="24.13" text-anchor="start" fill="#0d0d0d" transform="translate(54.7 264.4) scale(1.04 1)" >Pure Pbp</text>
<polygon points="190.8,100 197.66,120.6 186.68,121.31" fill="#000"/>
<line x1="198.9" y1="224" x2="192.04" y2="118.96" stroke="#000" stroke-width="2.2" stroke-dasharray="17.3 14.6"/>
<polygon points="474.5,99.5 480.51,120.36 469.51,120.63" fill="#000"/>
<line x1="477.5" y1="222.5" x2="474.96" y2="118.49" stroke="#000" stroke-width="2.2" stroke-dasharray="17.3 14.6"/>
<polygon points="500,106.3 506.26,127.09 495.26,127.49" fill="#000"/>
<line x1="504.3" y1="225" x2="500.69" y2="125.29" stroke="#000" stroke-width="2.2" stroke-dasharray="17.3 14.6"/>
<polygon points="523.8,99.5 530.17,120.25 519.18,120.71" fill="#000"/>
<line x1="528.8" y1="220" x2="524.59" y2="118.48" stroke="#000" stroke-width="2.2" stroke-dasharray="17.3 14.6"/>
<polygon points="625.8,145 632.43,165.67 621.45,166.27" fill="#000"/>
<line x1="633.2" y1="281" x2="626.83" y2="163.97" stroke="#000" stroke-width="2.2" stroke-dasharray="17.3 14.6"/>
<polygon points="645.7,168 653.25,186.14 643.34,187.5" fill="#000"/>
<line x1="651.3" y1="208.6" x2="648.02" y2="184.84" stroke="#000" stroke-width="2.4" />
<text font-size="19.33" text-anchor="start" fill="#0d0d0d" transform="translate(200.8 384.4) rotate(-90) scale(1.04 1)" >NH stretching</text>
<text font-size="19.52" text-anchor="start" fill="#0d0d0d" transform="translate(248.8 447.4) rotate(-90) scale(1.04 1)" >CH stretching (DBSA)</text>
<text font-size="16.54" text-anchor="start" fill="#0d0d0d" transform="translate(648 263) rotate(-90) scale(1.04 1)" >Ni-O</text>
<text font-size="16.83" text-anchor="start" fill="#0d0d0d" transform="translate(671.2 278.9) rotate(-90) scale(1.04 1)" >stretching</text>
<text font-size="19.52" text-anchor="start" fill="#0d0d0d" transform="translate(297.5 231.2) scale(1.04 1)" >CC stretching</text>
<text font-size="19.52" text-anchor="start" fill="#0d0d0d" transform="translate(267.5 254.5) scale(1.04 1)" >NH deformation</text>
<text font-size="19.52" text-anchor="start" fill="#0d0d0d" transform="translate(318.8 272.5) scale(1.04 1)" >CN stretching</text>
<text font-size="19.52" text-anchor="start" fill="#0d0d0d" transform="translate(307 291.2) scale(1.04 1)" >Benzene stretching</text>
<text font-size="19.52" text-anchor="start" fill="#0d0d0d" transform="translate(300.8 314) scale(1.04 1)" >HSO<tspan dy="5" font-size="12">4</tspan><tspan dy="-13" dx="-6.5" font-size="12">1-</tspan><tspan dy="8">stretching</tspan></text>
<text font-size="19.52" text-anchor="start" fill="#0d0d0d" transform="translate(350 340) scale(1.04 1)" >CN vibration</text>
<text font-size="19.52" text-anchor="start" fill="#0d0d0d" transform="translate(371.3 360) scale(1.04 1)" >CH stretching of</text>
<text font-size="19.52" text-anchor="start" fill="#0d0d0d" transform="translate(371.3 385.5) scale(1.04 1)" >benzenion (DBSA)</text>
<text font-size="19.52" text-anchor="start" fill="#0d0d0d" transform="translate(453.3 411.3) scale(1.04 1)" >S=O stretching</text>
<text font-size="19.52" text-anchor="start" fill="#0d0d0d" transform="translate(486.3 436.3) scale(1.04 1)" >CH deformation</text>
<text font-size="19.52" text-anchor="start" fill="#0d0d0d" transform="translate(463.3 463.8) scale(1.04 1)" >SO<tspan dy="5" font-size="12">3</tspan><tspan dy="-13" dx="-6.5" font-size="12">1-</tspan><tspan dy="8"> stretching (DBSA)</tspan></text>
<polygon points="472.2,228 452.93,235.18 451.77,225.65" fill="#000"/>
<line x1="420.5" y1="234.3" x2="454.33" y2="230.18" stroke="#000" stroke-width="2.6" />
<path d="M421 249.1 C446.6 250.6 466 246.5 478.3 238.5" fill="none" stroke="#000" stroke-width="2.6"/>
<polygon points="479,223.5 484.9,241.58 474.7,242.02" fill="#000"/>
<polygon points="501,241.8 484.61,253.41 481.1,244.47" fill="#000"/>
<line x1="446.6" y1="263.2" x2="484.71" y2="248.21" stroke="#000" stroke-width="2.6" />
<path d="M482.1 284.1 C498 282 513 272 517.6 252" fill="none" stroke="#000" stroke-width="2.6"/>
<polygon points="517.7,235.5 523.1,254.02 512.9,254.18" fill="#000"/>
<polygon points="548.8,306.3 528.87,311.56 528.74,301.56" fill="#000"/>
<line x1="455" y1="307.5" x2="530.8" y2="306.53" stroke="#000" stroke-width="2.6" />
<polygon points="561.3,321.3 541.67,327.6 541.02,317.62" fill="#000"/>
<line x1="467" y1="327.5" x2="543.34" y2="322.48" stroke="#000" stroke-width="2.6" />
<polygon points="568.8,327.5 556.75,344.23 550.3,336.59" fill="#000"/>
<line x1="528.8" y1="361.3" x2="555.05" y2="339.12" stroke="#000" stroke-width="2.6" />
<polygon points="578.8,322.5 578.03,343.1 568.42,340.31" fill="#000"/>
<line x1="556.3" y1="400" x2="573.78" y2="339.79" stroke="#000" stroke-width="2.6" />
<polygon points="626.3,325 623.81,345.46 614.47,341.89" fill="#000"/>
<line x1="591.3" y1="416.3" x2="619.86" y2="341.81" stroke="#000" stroke-width="2.6" />
<polygon points="653.8,336.3 654.5,356.9 644.72,354.81" fill="#000"/>
<line x1="631.3" y1="441.3" x2="650.03" y2="353.9" stroke="#000" stroke-width="2.6" />
<polyline points="779.5,326.16 780.05,325.61 780.6,325.51 781.15,323.94 781.7,323.26 782.25,322.66 782.8,321.18 783.35,321.02 783.9,320.48 784.45,320.03 785,318.02 785.68,317.71 786.36,316.65 787.05,317.26 787.73,316.37 788.41,314.52 789.09,315.53 789.77,314.81 790.45,313.57 791.14,312.82 791.82,311.32 792.5,310.38 793.44,311.08 794.38,310.02 795.31,310.04 796.25,309.91 797.19,309.31 798.12,309.87 799.06,309.61 800,310.12 800.94,309.75 801.88,310.19 802.81,310.16 803.75,310.67 804.69,310.52 805.62,310.41 806.56,311.93 807.5,312.14 808.33,312.22 809.17,312.35 810,312 810.83,312.21 811.67,312.68 812.5,312.64 813.33,314.26 814.17,313.96 815,315.12 816,314.65 817,316.02 818,316.18 819,315 820,315.73 820.31,315.93 820.62,314.07 820.94,313.93 821.25,311.82 821.56,312.29 821.88,314.36 822.19,315.69 822.5,315.84 823.44,315.82 824.38,316.57 825.31,318.02 826.25,317.96 827.19,317.12 828.12,317.67 829.06,317.72 830,317.96 830.18,318.39 830.36,316.38 830.54,316.18 830.71,315.08 830.89,313.73 831.07,313.81 831.25,311.84 831.41,313.7 831.56,313.68 831.72,315.17 831.88,315.73 832.03,316.77 832.19,318.97 832.34,319.61 832.5,319.65 833.33,321.11 834.17,320.31 835,321.06 835.83,322.3 836.67,322.34 837.5,321.78 838.12,322.63 838.75,320.48 839.38,319.81 840,319.99 840.62,318.44 841.25,317.63 841.46,318.19 841.67,319.18 841.88,321.02 842.08,321.37 842.29,322.97 842.5,323.52 843,322.82 843.5,322.88 844,321.17 844.5,320.48 845,320.16 845.42,319.85 845.83,320.71 846.25,322.99 846.67,323.74 847.08,323.63 847.5,324.44 848.21,326.15 848.93,327.22 849.64,326.6 850.36,328.67 851.07,329.26 851.79,329.47 852.5,329.86 853.33,329.91 854.17,330.42 855,332.71 855.83,332.03 856.67,333.49 857.5,333.31 858.25,333.58 859,332.42 859.75,331.13 860.5,330.17 861.25,330.4 861.41,328.31 861.57,327.69 861.73,327.38 861.89,327 862.05,325.66 862.2,324.15 862.36,324.39 862.52,322.19 862.68,320.95 862.84,320.49 863,319.9 863.07,318.3 863.15,317.59 863.22,317.03 863.29,316.48 863.37,314.78 863.44,314.28 863.51,314.32 863.59,313.57 863.66,312.08 863.74,311.23 863.81,310.12 863.88,308.41 863.96,307.31 864.03,306.37 864.1,307.06 864.18,305.77 864.25,305.33 864.32,304.55 864.4,306.57 864.47,307.2 864.54,308.56 864.62,308.73 864.69,310.87 864.76,310.12 864.84,311.88 864.91,313.13 864.99,314.34 865.06,314.96 865.13,315.81 865.21,316.88 865.28,318.01 865.35,317.91 865.43,319.42 865.5,320.72 865.62,321.63 865.73,321.77 865.85,323.41 865.96,324.5 866.08,324.94 866.19,325.99 866.31,326.52 866.42,327.84 866.54,328.85 866.65,328.86 866.77,330.83 866.88,332.43 867,333.18 867.43,333.8 867.86,334.08 868.29,335.6 868.71,336.22 869.14,336.86 869.57,338.47 870,338 870.31,338.26 870.62,336.03 870.94,336.12 871.25,334.97 871.56,333.58 871.88,333.48 872.19,332.18 872.5,331.46 872.64,332.98 872.78,332.75 872.92,333.29 873.06,334.78 873.19,336.43 873.33,336.55 873.47,337.46 873.61,339.76 873.75,340.29 874.25,340.65 874.75,342.21 875.25,341.94 875.75,343.3 876.25,343.21 876.5,342.75 876.75,342.55 877,341.87 877.25,340.93 877.5,339.17 877.75,338.65 878,337.29 878.25,336.1 878.5,335.87 878.75,335.61 879,334.63 879.25,333.38 879.5,332.81 879.75,330.6 880,329.4 880.08,330.85 880.16,331.47 880.23,332.3 880.31,333.6 880.39,334.91 880.47,335.61 880.55,336.23 880.62,338.11 880.7,339.31 880.78,339.29 880.86,339.55 880.94,340.41 881.02,342.86 881.09,342.3 881.17,344.44 881.25,345.13 881.88,345.49 882.5,347.19 883.12,346.63 883.75,347.68 884.38,349.09 885,349.14 885.75,351.09 886.5,350.53 887.25,350.85 888,351.18 888.75,352.73 888.98,351.45 889.2,350.82 889.43,349.92 889.66,349.24 889.89,348.55 890.11,347.1 890.34,345.28 890.57,344.82 890.8,343.33 891.02,342.07 891.25,341.95 891.41,343.34 891.57,343.33 891.73,344.45 891.89,345.54 892.05,347.13 892.2,347.76 892.36,348.89 892.52,350.1 892.68,350.4 892.84,352.07 893,353.23 893.9,352.01 894.8,353.78 895.7,353.65 896.6,352.83 897.5,353.67 897.92,353.14 898.33,352.82 898.75,351.03 899.17,350.54 899.58,350.27 900,349.28 900.42,350.38 900.83,350.35 901.25,351.52 901.67,351.55 902.08,353.32 902.5,354.32 903.5,354.25 904.5,354.64 905.5,353.98 906.5,355.47 907.5,355.86 908.12,355.08 908.75,353.5 909.38,353.18 910,351.55 910.62,351.83 911.25,350.95 911.88,349.26 912.5,348 913.25,348.04 914,347.64 914.75,347.43 915.5,346.33 916.25,344.9 917,346.91 917.75,346.17 918.5,348.09 919.25,347.56 920,348.45 920.62,350.05 921.25,349.67 921.88,350.46 922.5,351.9 923.12,353.06 923.75,354.05 924.38,354.56 925,355.8 925.83,355.61 926.67,357.06 927.5,356.13 928.33,357 929.17,358.17 930,358.37 930.75,359.91 931.5,360.5 932.25,361.04 933,362.37 933.75,362.61 934.17,361.33 934.58,360.62 935,360.62 935.42,359.89 935.83,357.81 936.25,358.13 937,357.84 937.75,356.54 938.5,356.13 939.25,354.96 940,355.06 940.42,355.84 940.83,356.86 941.25,356.65 941.67,359.18 942.08,359.2 942.5,359.82 943.33,361.38 944.17,361.78 945,362.48 945.94,362.53 946.88,361.09 947.81,361.63 948.75,361.09 948.98,361.16 949.2,360.19 949.43,358.11 949.66,357.57 949.89,356.03 950.11,355.68 950.34,355.45 950.57,354.7 950.8,353.03 951.02,351.83 951.25,350.69 951.41,352.37 951.57,353.83 951.73,353.31 951.89,355.39 952.05,354.94 952.2,356.15 952.36,357.12 952.52,358.86 952.68,359.11 952.84,360.08 953,361.47 954.08,360.79 955.17,362.17 956.25,361.32 957.19,361.52 958.12,360.55 959.06,359.96 960,360 960.5,361.57 961.3,361.83 962.1,361.95 962.9,362.27 963.7,361.83 964.5,362.23 965.3,360.26 966.1,361.22 966.9,362.28 967.7,361.63 968.5,362.18 969.3,360.45 970.1,361.23 970.9,360.74 971.7,361.4 972.5,361.46 973.3,360.23 974.1,360.68 974.9,360.81 975.7,362.22 976.5,361.88 977.3,360.55 978.1,361.95 978.9,360.51 979.7,361.56 980.5,360.48 981.3,360.2 982.1,362.12 982.9,360.66 983.7,360.47 984.5,361.35 985.3,360.3 986.1,358.21 986.9,358.88 987.7,357.14 988.5,356.63 989.3,354.33 990.1,353.95 990.9,351.39 991.7,349.99 992.5,347.82 993.3,344.51 994.1,340.14 994.9,334.37 995.7,328.99 996.5,323.48 997.3,316.71 998.1,304.22 998.9,289.75 999.7,278.1 1000.5,264.25 1001.3,251.09 1002.1,238.53 1002.9,222.37 1003.5,201.89 1003.7,208.96 1004.5,230.95 1005.3,243.98 1006.1,259.1 1006.9,270.11 1007.7,284.82 1008.5,298.18 1009.3,309.51 1010.1,322.4 1010.9,326.81 1011.7,332.61 1012.5,336.7 1013.3,342.11 1014.1,345.25 1014.9,348.96 1015.7,349.3 1016.5,352.53 1017.3,354.92 1018.1,356.81 1018.9,356.3 1019.7,357.14 1020.5,358.32 1021.3,359.68 1022.1,359.02 1022.9,361.24 1023.7,361.95 1024.5,362.09 1025.3,360.28 1026.1,362.28 1026.9,360.4 1027.7,360.95 1028.5,361.54 1029.3,362.22 1030.1,360.95 1030.9,362.1 1031.7,360.22 1032.5,358.67 1033.3,357.63 1034.1,356.28 1034.9,355.02 1035.7,354.13 1036.5,354.28 1037.3,353.57 1038.1,349.15 1038.9,346.31 1039.7,345.79 1040.5,342.2 1041.3,339.33 1042.1,336.37 1042.9,331.35 1043.7,324.98 1044.5,317.29 1045.3,310.33 1046.1,302.65 1046.9,291.86 1047.7,272.96 1048.5,257.01 1049.3,240.82 1050.1,222.37 1050.9,206.8 1051.7,190.39 1052.5,171.15 1053.3,147.74 1053.8,124.63 1054.1,138.32 1054.9,165.36 1055.7,185.8 1056.5,201.62 1057.3,218.86 1058.1,236.95 1058.9,253.56 1059.7,270.79 1060.5,286.6 1061.3,301.88 1062.1,309.29 1062.9,315.62 1063.7,322.08 1064.5,329.21 1065.3,335.53 1066.1,338.62 1066.9,342.56 1067.7,345.08 1068.5,346.94 1069.3,349.24 1070.1,351.48 1070.9,352.7 1071.7,354.14 1072.5,356.31 1073.3,357.54 1074.1,357.47 1074.9,359.45 1075.7,360.47 1076.5,361.34 1077.3,361.66 1078.1,361.87 1078.9,361 1079.7,361.75 1080.5,360.82 1081.3,361.27 1082.1,361.89 1082.9,361.72 1083.7,360.85 1084.5,362.28 1085.3,361.63 1086.1,361.48 1086.9,360.23 1087.7,361.4 1088.5,360.75 1089.3,361.68 1090.1,361.22 1090.9,362 1091.7,361.62 1092.5,361.95 1093.3,360.97 1094.1,361.62 1094.9,361.82 1095.7,362.02 1096.5,360.97 1097.3,362.05 1098.1,362.11 1098.9,361.71 1099.7,362.35 1100.5,362.3 1101.3,361.34 1102.1,361.36 1102.9,360.57 1103.7,362.04 1104.5,362.26 1105.3,361.25 1106.1,361.72 1106.9,361.78 1107.7,361.81 1108.5,360.58 1109.3,361.92 1110.1,361.48 1110.9,361.66 1111.7,361.13 1112.5,361.57 1113.3,361.9 1114.1,361.6 1114.9,361.78 1115.7,360.26 1116.5,360.55 1117.3,361.17 1118.1,361.63 1118.9,360.68 1119.7,361.71 1120.5,361.59 1121.3,360.29 1122.1,361.24 1122.9,360.7 1123.7,360.32 1124.5,360.49 1125.3,360.9 1126.1,360.6 1126.9,360.63 1127.7,360.28 1128.5,361.22 1129.3,361.04 1130.1,361.55 1130.9,361.5 1131.7,360.72 1132.5,362.19 1133.3,360.2 1134.1,361.09 1134.9,360.81 1135.7,361.1 1136.5,360.45 1137.3,362.03 1138.1,361.02 1138.9,360.28 1139.7,361.55 1140.5,360.41 1141.3,361.4 1142.1,360.95 1142.9,361.48 1143.7,362.31 1144.5,362 1145.3,361.12 1146.1,361.99 1146.9,361.61 1147.7,361.01 1148.5,360.51 1149.3,361.51 1150.1,361.44 1150.9,362.3 1151.7,362.33 1152.5,361.54 1153.3,360.97 1154.1,362.16 1154.9,360.2 1155.7,360.43 1156.5,361.44 1157.3,361.55 1158.1,360.5 1158.9,361.58 1159.7,362.15 1160.5,361.02 1161.3,361.14 1162.1,360.69 1162.9,360.83 1163.7,362.32 1164.5,361.02 1165.3,362.29 1166.1,362.19 1166.9,361.49 1167.7,360.74 1168.5,362.33 1169.3,361.26 1170.1,361.07 1170.9,360.86 1171.7,362.31 1172.5,361.22 1173.3,360.76 1174.1,361.17 1174.9,360.38 1175.7,361.47 1176.5,361.07 1177.3,360.72 1178.1,361.78 1178.9,361.86 1179.7,360.05 1180.5,361.17 1181.3,360.58 1182.1,362.01 1182.9,361.64 1183.7,360.42 1184.5,360.43 1185.3,360.13 1186.1,361.92 1186.9,360.33 1187.7,360.95 1188.5,360.58 1189.3,360.87 1190.1,360.69 1190.9,360.88 1191.7,359.39 1192.5,360.66 1193.3,359.49 1194.1,359.83 1194.9,359.2 1195.7,358.88 1196.5,359.14 1197.3,358.71 1198.1,358.16 1198.9,358.64 1199.7,357.88 1200.5,356.19 1201.3,356.11 1202.1,355.92 1202.9,356.17 1203.7,355.17 1204.5,353.26 1205.3,350.62 1206.1,350.41 1206.9,347.18 1207.7,344.33 1208.5,340.61 1209.3,335.49 1210.1,329.23 1210.9,323.36 1211.7,314.69 1212.5,306.83 1213.3,300 1214.1,291.18 1214.9,284.85 1215.7,280.53 1215.7,278.85 1216.5,286.04 1217.3,292.28 1218.1,299.08 1218.9,306.6 1219.7,315.56 1220.5,323.35 1221.3,328.48 1222.1,335.15 1222.9,340.26 1223.7,344.16 1224.5,346.96 1225.3,349.03 1226.1,351.88 1226.9,353.85 1227.7,353.37 1228.5,354.66 1229.3,356.72 1230.1,357.3 1230.9,357.57 1231.7,356.64 1232.5,358.59 1233.3,359.52 1234.1,359.89 1234.9,359.52 1235.7,358.34 1236.5,360.31 1237.3,359.14 1238.1,360.25 1238.9,361.08 1239.7,360.69 1240.5,359.55 1241.3,360 1242.1,361.47 1242.9,359.87 1243.7,360.96 1244.5,360.59 1245.3,360.09 1246.1,361.16 1246.9,359.94 1247.7,360.12 1248.5,360.75 1249.3,360.11 1250.1,360.1 1250.9,361.27 1251.7,361.66 1252.5,361.98 1253.3,360.36 1254.1,361.03 1254.9,360.78 1255.7,361.43 1256.5,361.19 1257.3,362.19 1258.1,360.96 1258.9,360.26 1259.7,361.68 1260.5,360.49 1261.3,361.55 1262.1,361.28 1262.9,362.17 1263.7,361.39 1264.5,361.54 1265.3,360.76 1266.1,361.39 1266.9,360.74 1267.7,361.83 1268.5,361.32 1269.3,360.48 1270.1,360.7 1270.9,361 1271.7,361.81 1272.5,360.58 1273.3,361.76 1274.1,361.63 1274.9,360.38 1275.7,361.66 1276.5,360.39 1277.3,360.46 1278.1,361.49 1278.9,360.71 1279.7,362.11 1280.5,361.24 1281.3,360.89 1282.1,361.93 1282.9,360.24 1283.7,361.76 1284.5,360.28 1285.3,360.49 1286.1,362.25 1286.9,361.65 1287.7,360.63 1288.5,360.39 1289.3,362.26 1290.1,361.57 1290.9,361.9 1291.7,360.39 1292.5,361.44 1293.3,360.83 1294.1,360.54 1294.9,360.73 1295.7,361.32 1296.5,360.71 1297.3,360.75 1298.1,360.16 1298.9,361.64 1299.7,361.18 1300.5,361.46 1301.3,360.58 1302.1,361.41 1302.9,360.58 1303.7,360.64 1304.5,360.47 1305.3,360.68 1306.1,359.74 1306.9,358.85 1307.7,358.43 1308.5,358.43 1309.3,357.58 1310.1,358.82 1310.9,357.09 1311.7,356.64 1312.5,353.65 1313.3,353.1 1314.1,352.19 1314.9,349.58 1315.7,347.06 1316.5,345.05 1317.3,342.29 1318.1,340.67 1318.7,339.55 1318.9,340.38 1319.7,342.01 1320.5,344.96 1321.3,345.39 1322.1,347.73 1322.9,349.85 1323.7,351.53 1324.5,353.51 1325.3,354.85 1326.1,356.58 1326.9,356.54 1327.7,359.23 1328.5,358.56 1329.3,360.23 1330.1,360 1330.9,360.22 1331.7,359.98 1332.5,361.18 1333.3,359.5 1334.1,360.82 1334.9,360.08 1335.7,361 1336.5,361.18 1337.3,359.97 1338.1,360.08 1338.9,359.69 1339.7,360.11 1340.5,359.69 1341.3,360.25 1342.1,361.28 1342.9,359.59 1343.7,359.01 1344.5,358.74 1345.3,357.57 1346.1,357.68 1346.9,356.67 1347.7,354.44 1348.5,353.64 1349.3,353.72 1350.1,353.58 1350.6,352.57 1350.9,352.31 1351.7,354.21 1352.5,352.93 1353.3,354.02 1354.1,357.16 1354.9,358.07 1355.7,358.92 1356.5,361.56 1357.3,363.92" fill="none" stroke="#424242" stroke-width="3.4" stroke-linejoin="round" stroke-linecap="round" />
<polyline points="779.5,466.16 779.92,466.3 780.35,465.85 780.77,463.59 781.19,462.66 781.62,463.42 782.04,462.6 782.46,463.94 782.88,463.05 783.31,462.27 783.73,461.64 784.15,461.51 784.58,459.27 785,459.8 785.62,458.81 786.25,461.3 786.88,458.38 787.5,460.92 788.12,458.35 788.75,460.39 789.38,459.15 790,459.34 790.62,460.79 791.25,457.95 791.88,458.05 792.5,460.91 793.08,459.76 793.65,458.57 794.23,461.85 794.81,461.94 795.38,459.34 795.96,460.62 796.54,459.87 797.12,460.71 797.69,461.99 798.27,460.66 798.85,462.71 799.42,460.74 800,461.38 800.62,463.74 801.25,462.5 801.88,462.72 802.5,463.49 803.12,463.25 803.75,463.11 804.38,462.07 805,464.6 805.62,465.59 806.25,465.79 806.88,464.89 807.5,464.01 808.12,464.08 808.75,465.23 809.38,465.22 810,463.35 810.62,463.81 811.25,464.29 811.88,464.83 812.5,465.89 813.12,464.88 813.75,463.31 814.38,466.06 815,464.76 815.58,464.87 816.15,463.67 816.73,464.18 817.31,463.85 817.88,464.96 818.46,462.5 819.04,463.82 819.62,462.37 820.19,463.94 820.77,461.5 821.35,462.12 821.92,462.16 822.5,462.97 822.87,460.46 823.24,461.33 823.6,459.97 823.97,459.7 824.34,459.85 824.71,460.97 825.07,458.83 825.44,459.93 825.81,456.74 826.18,458.8 826.54,456.38 826.91,455.27 827.28,456.65 827.65,456.7 828.01,453.1 828.38,453.48 828.75,454.67 829.2,452.77 829.64,451.98 830.09,450.74 830.54,450.4 830.98,451.92 831.43,452.72 831.88,452.32 832.32,450.19 832.77,448.11 833.21,448.68 833.66,449.82 834.11,449.52 834.55,448.42 835,446.58 835.5,447.22 836,446.67 836.5,446.81 837,445.19 837.5,447.14 838,446.59 838.5,443.73 839,443.79 839.5,445.39 840,443 840.11,444.66 840.22,442.61 840.33,442.62 840.43,442.05 840.54,439.79 840.65,439.43 840.76,438.73 840.87,439.59 840.98,439.03 841.09,436.52 841.2,438.49 841.3,436.31 841.41,435.1 841.52,435.16 841.63,436.41 841.74,434.39 841.85,434.01 841.96,434.42 842.07,433.96 842.17,432.68 842.28,430.92 842.39,430.9 842.5,431.36 842.54,430.38 842.58,429.07 842.62,427.68 842.66,427.15 842.7,427.8 842.74,426.62 842.78,424.16 842.82,425.91 842.86,425.97 842.9,425.01 842.94,424.75 842.98,424.2 843.02,422.32 843.06,422.58 843.1,420.59 843.14,419.03 843.18,419.3 843.22,418.56 843.26,420.08 843.3,418.64 843.34,417.54 843.38,417.22 843.42,414.92 843.46,415.72 843.5,415.68 843.54,415.24 843.58,415.34 843.62,416.48 843.66,416.8 843.7,418.63 843.74,417.38 843.78,417.81 843.82,419.16 843.86,421.07 843.9,421.88 843.94,422.14 843.98,423.68 844.02,422.34 844.06,421.8 844.1,423.96 844.14,424.41 844.18,424.11 844.22,426.37 844.26,425.86 844.3,426.11 844.34,427.01 844.38,429.71 844.42,427.13 844.46,428.93 844.5,429.25 844.56,429.61 844.62,431.02 844.69,430.92 844.75,433.92 844.81,433.13 844.88,434.42 844.94,433.23 845,434.88 845.06,435.99 845.12,437.42 845.19,436.02 845.25,437.36 845.31,439.33 845.38,439.88 845.44,438.45 845.5,440.13 845.56,441.51 845.62,440.89 845.69,442.46 845.75,443.06 846.36,444.28 846.96,443.04 847.57,443.65 848.18,442.71 848.79,444.18 849.39,442.97 850,443.75 850.33,442.72 850.67,441.98 851,440.85 851.33,440.6 851.67,441.12 852,439.57 852.33,438.32 852.67,440.34 853,438.02 853.2,440.86 853.4,440.34 853.6,440.25 853.8,442.52 854,443.23 854.2,441.89 854.4,441.85 854.6,444.23 854.8,445.54 855,445.37 855.38,446.45 855.77,445.66 856.15,446.84 856.54,446.12 856.92,447.09 857.31,447.48 857.69,447.97 858.08,448.5 858.46,450.37 858.85,448.69 859.23,449.29 859.62,449.94 860,452.85 860.47,451.72 860.94,450.51 861.41,453.56 861.88,454.08 862.34,454.3 862.81,453.11 863.28,454.78 863.75,453.71 864.22,453.53 864.69,456.4 865.16,456.68 865.62,454.96 866.09,457.62 866.56,455.1 867.03,456.46 867.5,455.84 868,456.71 868.5,457.02 869,459.23 869.5,458.14 870,458.11 870.5,458.43 871,459.19 871.5,461.4 872,460.86 872.5,459.48 873,461.8 873.5,461.62 874,461.66 874.5,462.26 875,463.02 875.58,463.71 876.15,462.9 876.73,463.54 877.31,463.16 877.88,463.92 878.46,463.27 879.04,463.56 879.62,464.1 880.19,464.96 880.77,463.67 881.35,466.06 881.92,464.78 882.5,466.21 883.12,465.8 883.75,466.86 884.38,466.09 885,465.38 885.62,465.46 886.25,466.3 886.88,466.96 887.5,467.4 887.64,464.36 887.79,463.51 887.93,463.04 888.07,462.34 888.21,461.62 888.36,460.83 888.5,461.02 888.64,459.93 888.79,461.25 888.93,460.39 889.07,460.96 889.21,460.32 889.36,458.96 889.5,459.03 889.54,455.3 889.58,455.37 889.62,457.15 889.66,455.02 889.7,453.5 889.74,454.77 889.78,453.04 889.82,452.85 889.86,451.47 889.9,450.62 889.94,449.5 889.98,450.66 890.02,451.24 890.06,450.75 890.1,449.4 890.14,449.37 890.18,446.83 890.22,446.01 890.26,447.54 890.3,445.84 890.34,445.47 890.38,442.64 890.42,442.78 890.46,443.04 890.5,443.29 890.55,444.21 890.6,444.57 890.65,443.75 890.7,444.5 890.75,446.73 890.8,447.76 890.85,446.65 890.9,446.26 890.95,448.32 891,448.62 891.05,448.63 891.1,448.78 891.15,449.91 891.2,451.28 891.25,450.23 891.3,452.24 891.35,454.24 891.4,454.13 891.45,453.06 891.5,454.22 891.55,453.75 891.6,456.51 891.65,456.75 891.7,455.79 891.75,457.66 891.85,458.44 891.94,458.99 892.04,458.93 892.13,459.31 892.23,460.08 892.33,462.88 892.42,461.23 892.52,462.43 892.62,462.9 892.71,462.54 892.81,463.93 892.9,463.88 893,464.9 893.54,464.76 894.08,464.41 894.62,466.11 895.17,463.64 895.71,463.47 896.25,464.29 896.56,462.88 896.88,462.76 897.19,462.69 897.5,460.22 897.81,461.73 898.12,459.27 898.44,459.25 898.75,460.64 899.06,460.73 899.38,459.13 899.69,456.9 900,457.29 900.33,456.26 900.67,457.66 901,455.09 901.33,454.47 901.67,455.47 902,454.97 902.33,454.31 902.67,453.43 903,454.56 903.33,452.36 903.67,453.49 904,451.13 904.33,450.88 904.67,450.02 905,450.73 905.22,450.27 905.44,447.94 905.66,448.32 905.88,448.42 906.1,447.06 906.32,447.02 906.54,446.28 906.76,446.02 906.99,444.21 907.21,443.46 907.43,441.91 907.65,444.27 907.87,443.34 908.09,441.39 908.31,442.76 908.53,441.96 908.75,438.82 908.84,440.54 908.92,438.52 909.01,437.56 909.09,436.77 909.18,436.69 909.27,434.86 909.35,434.25 909.44,433.87 909.53,433.91 909.61,432.8 909.7,432.08 909.78,433.89 909.87,431.75 909.96,431.52 910.04,431.29 910.13,431.82 910.22,428.54 910.3,428.21 910.39,429.76 910.47,429.32 910.56,428.8 910.65,426.82 910.73,425.67 910.82,424.46 910.91,426.31 910.99,425.21 911.08,423.88 911.16,424.09 911.25,421.69 911.32,422.01 911.39,422.68 911.46,419.37 911.53,420.5 911.6,418.43 911.67,420.05 911.74,419.45 911.81,418.19 911.88,416.88 911.95,414.87 912.02,415.88 912.09,414.82 912.16,414.36 912.23,412.66 912.3,414.93 912.37,412.97 912.44,412.51 912.51,412.86 912.58,412.45 912.65,410.67 912.72,410.05 912.79,410.48 912.86,408.27 912.93,409.46 913,405.88 913.09,409.13 913.19,408.84 913.28,409.79 913.38,411.67 913.47,409.67 913.56,410.94 913.66,412.89 913.75,413.34 913.84,413.21 913.94,414.69 914.03,414.98 914.12,416.26 914.22,416.14 914.31,415.79 914.41,416.15 914.5,416.08 914.6,415.59 914.71,414.69 914.81,417.24 914.92,413.78 915.02,414.72 915.12,412.51 915.23,414.71 915.33,412.61 915.44,410.78 915.54,412.36 915.65,411.85 915.75,411.62 915.83,409.65 915.92,410.86 916,412.33 916.08,411.64 916.17,413.21 916.25,414.26 916.33,415.02 916.42,415.86 916.5,416.21 916.58,415.22 916.67,417.42 916.75,416.92 916.83,416.61 916.92,416.7 917,419.34 917.08,419.04 917.17,418.74 917.25,420.68 917.33,421.02 917.42,421.31 917.5,422.73 917.75,422.01 918,421.35 918.25,422.28 918.5,421.38 918.75,418.69 919,420.01 919.12,418.71 919.24,421.42 919.36,419.02 919.47,420.5 919.59,423.18 919.71,422.85 919.83,423.6 919.95,422.48 920.07,422.79 920.18,426.23 920.3,423.79 920.42,424.75 920.54,426.21 920.66,428.12 920.78,428.24 920.89,429.92 921.01,429.77 921.13,429.19 921.25,431.4 921.37,429.97 921.49,429.67 921.61,433.35 921.73,433.68 921.85,433.52 921.96,433.5 922.08,433.16 922.2,433.81 922.32,433.89 922.44,434.57 922.56,436.48 922.68,438.49 922.8,439.21 922.92,438.38 923.04,439.52 923.15,439.41 923.27,441.06 923.39,441.42 923.51,442.96 923.63,443.08 923.75,443.1 923.95,443.4 924.14,442.56 924.34,444.18 924.54,444.69 924.74,444.29 924.93,445.04 925.13,446.34 925.33,446.13 925.53,448.25 925.72,447.84 925.92,450.67 926.12,450.23 926.32,450.25 926.51,450.56 926.71,451.01 926.91,450.96 927.11,454.14 927.3,454.56 927.5,454.26 927.83,454.76 928.17,453.54 928.5,455.39 928.83,454.62 929.17,455.65 929.5,457.05 929.83,456.13 930.17,456.84 930.5,459.03 930.83,458.7 931.17,460.57 931.5,458.59 931.83,458.85 932.17,462.24 932.5,461.62 933.08,462.2 933.65,462.02 934.23,460.92 934.81,464.03 935.38,462.68 935.96,464.37 936.54,462.07 937.12,462.79 937.69,464.01 938.27,463.28 938.85,465.65 939.42,463.9 940,463.57 940.62,463.92 941.25,464.35 941.88,466.71 942.5,466.54 943.12,465.89 943.75,465.13 944.38,463.88 945,466.63 945.09,463.61 945.18,463.24 945.26,463.43 945.35,464.26 945.44,461.33 945.53,460.31 945.62,462.56 945.71,458.89 945.79,460.74 945.88,458.1 945.97,458.02 946.06,457.09 946.15,457.26 946.24,458.29 946.32,457.39 946.41,455.74 946.5,453.6 946.54,453.3 946.57,453.1 946.61,454.19 946.65,454.01 946.69,450.38 946.72,450.83 946.76,452.35 946.8,449 946.83,448.15 946.87,448.19 946.91,449.7 946.94,446.97 946.98,447.93 947.02,445.28 947.06,446.51 947.09,444.25 947.13,445.09 947.17,444.99 947.2,444.85 947.24,442.75 947.28,444.01 947.31,441.44 947.35,442.69 947.39,441.96 947.43,441.65 947.46,438.01 947.5,437.98 947.55,440.02 947.59,441.26 947.64,439.73 947.69,442.07 947.73,441.68 947.78,440.67 947.82,441.55 947.87,441.89 947.92,443.24 947.96,446.24 948.01,445.98 948.06,447.21 948.1,447.99 948.15,446.81 948.19,448.44 948.24,448.9 948.29,449.63 948.33,448.2 948.38,451.51 948.43,449.62 948.47,451.2 948.52,452.63 948.56,453.42 948.61,454.3 948.66,453.16 948.7,453.71 948.75,455.77 948.83,454.08 948.91,457.52 948.98,456.25 949.06,457.13 949.14,457.49 949.22,459.48 949.3,458.27 949.38,458.76 949.45,459.15 949.53,460 949.61,462.29 949.69,464.16 949.77,461.45 949.84,463.62 949.92,463.88 950,464.35 950.62,464.47 951.25,463.67 951.88,464.74 952.5,464.21 953.12,463.5 953.75,463.76 954.38,466.46 955,465.74 955.62,466.64 956.25,466.07 956.88,465.81 957.5,464.07 958.06,463.43 958.61,466.17 959.17,464.92 959.72,464.81 960.28,462.61 960.83,464.58 961.39,463.47 961.94,461.71 962.5,461.89 963.06,464.23 963.61,462.82 964.17,460.78 964.72,460.51 965.28,462.55 965.83,460.96 966.39,461.15 966.94,459.75 967.5,459.66 967.86,461.28 968.21,461.57 968.57,461.29 968.93,461.7 969.29,463.24 969.64,462.65 970,463.01 970.59,464.26 971.18,462.68 971.76,464.86 972.35,464.82 972.94,464.46 973.53,465.15 974.12,462.33 974.71,463.06 975.29,462.89 975.88,461.58 976.47,464.11 977.06,461.17 977.65,464.23 978.24,463.04 978.82,463.94 979.41,460.65 980,463.34 980.59,463.43 981.18,462.65 981.76,461.83 982.35,461.92 982.94,461.2 983.53,462.32 984.12,461.24 984.71,460.98 985.29,460.35 985.88,460.97 986.47,460.68 987.06,461.73 987.65,461.02 988.24,459.36 988.82,460.54 989.41,458.74 990,459.44 990.31,460.12 990.62,461.33 990.94,459.64 991.25,460.42 991.56,461.08 991.88,463.09 992.19,462.1 992.5,463.95 993.1,465.05 993.7,463.5 994.3,462.81 994.9,464.08 995.5,463.45 996.1,463.54 996.7,462.66 997.3,464.37 997.9,463.22 998.5,465.4 999.1,463.74 999.7,464.37 1000.3,465.19 1000.9,465.4 1001.5,462.12 1002.1,465.2 1002.7,462.4 1003.3,465.28 1003.9,464.73 1004.5,462.92 1005.1,464.48 1005.7,463.96 1006.3,463.59 1006.9,464.18 1007.5,463.6 1008.11,464.28 1008.72,464.41 1009.32,462.07 1009.93,464.22 1010.54,464.45 1011.15,465 1011.76,463.87 1012.36,463.89 1012.97,462.54 1013.58,462.72 1014.19,465.09 1014.8,462.26 1015.41,465.11 1016.01,462.47 1016.62,463.36 1017.23,464.17 1017.84,462.15 1018.45,463.57 1019.05,464.76 1019.66,463.36 1020.27,462.65 1020.88,462.25 1021.49,465.27 1022.09,462.41 1022.7,464.33 1023.31,464.22 1023.92,463 1024.53,463.95 1025.14,464.38 1025.74,462.76 1026.35,462.88 1026.96,465.19 1027.57,462.76 1028.18,463.71 1028.78,463.6 1029.39,464.69 1030,464.96 1030.23,464.07 1030.46,463.03 1030.69,462.16 1030.92,460.05 1031.15,461.12 1031.38,460.06 1031.62,460.58 1031.85,458.71 1032.08,457.27 1032.31,457.58 1032.54,458.53 1032.77,456.82 1033,456.82 1033.17,455.37 1033.33,456.55 1033.5,457.33 1033.67,458.7 1033.83,458.08 1034,461.51 1034.17,460.05 1034.33,459.55 1034.5,460.99 1034.67,462.51 1034.83,463.52 1035,464.82 1035.61,462.38 1036.22,465.42 1036.82,465.06 1037.43,463.93 1038.04,464.42 1038.65,463.3 1039.26,462.79 1039.86,462.35 1040.47,465.62 1041.08,465.41 1041.69,463.94 1042.3,464.5 1042.91,464.11 1043.51,464.86 1044.12,462.89 1044.73,465.15 1045.34,463.22 1045.95,464.67 1046.55,464.81 1047.16,465.61 1047.77,464.85 1048.38,463.4 1048.99,465.6 1049.59,464.13 1050.2,464.81 1050.81,465.65 1051.42,466.29 1052.03,463.35 1052.64,464.58 1053.24,464.13 1053.85,465.98 1054.46,464.48 1055.07,466.26 1055.68,465.9 1056.28,464.66 1056.89,465.86 1057.5,465.61 1058.11,463.69 1058.72,464.28 1059.33,463.72 1059.94,466.08 1060.55,464.58 1061.16,464.25 1061.77,465.65 1062.38,466.56 1062.99,463.67 1063.6,465.53 1064.21,463.94 1064.82,465.84 1065.43,465.68 1066.04,465.74 1066.65,465.1 1067.26,463.52 1067.87,465.99 1068.48,463.46 1069.09,465.04 1069.7,466.32 1070.3,463.96 1070.91,464.67 1071.52,465.32 1072.13,465.2 1072.74,464.1 1073.35,464.4 1073.96,466.02 1074.57,465.39 1075.18,463.54 1075.79,465.25 1076.4,465.82 1077.01,464.96 1077.62,465.94 1078.23,463.79 1078.84,463.86 1079.45,465.8 1080.06,463.72 1080.67,463.27 1081.28,463.33 1081.89,465.81 1082.5,465.6 1083.09,463.28 1083.68,464.94 1084.26,462.9 1084.85,464.15 1085.44,461.88 1086.03,463.61 1086.62,464.01 1087.21,462.99 1087.79,463.21 1088.38,461.29 1088.97,462.25 1089.56,463.17 1090.15,461.58 1090.74,462.65 1091.32,461.97 1091.91,462.49 1092.5,462.06 1093,460.24 1093.5,461.63 1094,461.28 1094.5,459.6 1095,460.24 1095.42,459.71 1095.83,460.76 1096.25,460.4 1096.67,461.37 1097.08,461.35 1097.5,463.84 1098.12,462.93 1098.75,462.97 1099.38,462.7 1100,462.55 1100.62,461.6 1101.25,463.25 1101.88,462.61 1102.5,462.3 1103.12,462.92 1103.75,461.66 1104.38,463.46 1105,463.96 1105.56,462.8 1106.12,462.35 1106.69,465.34 1107.25,464.41 1107.81,463.63 1108.38,463.11 1108.94,465 1109.5,465" fill="none" stroke="#ee3d3d" stroke-width="3.6" stroke-linejoin="round" stroke-linecap="round" />
<path d="M781.4 297.6 H958 V472.7 H781.4" fill="none" stroke="#000" stroke-width="3.2" stroke-dasharray="14.8 16.85"/>
<path d="M781.4 297.6 V472.7" fill="none" stroke="#000" stroke-width="3.2" stroke-dasharray="14.8 16.85" stroke-dashoffset="1.7"/>
<rect x="779.8" y="296" width="3.2" height="3.2" fill="#000"/>
<rect x="778" y="21" width="621.1" height="461.2" fill="none" stroke="#2e2e2e" stroke-width="1.6"/>
<text font-size="21.09" text-anchor="middle" fill="#0d0d0d" transform="translate(778 506.8) scale(1.01 1)" >10</text>
<line x1="819.4" y1="482.2" x2="819.4" y2="477.9" stroke="#2e2e2e" stroke-width="1.5" />
<line x1="860.8" y1="482.2" x2="860.8" y2="474.4" stroke="#2e2e2e" stroke-width="1.5" />
<text font-size="21.09" text-anchor="middle" fill="#0d0d0d" transform="translate(860.8 506.8) scale(1.01 1)" >20</text>
<line x1="902.2" y1="482.2" x2="902.2" y2="477.9" stroke="#2e2e2e" stroke-width="1.5" />
<line x1="943.6" y1="482.2" x2="943.6" y2="474.4" stroke="#2e2e2e" stroke-width="1.5" />
<text font-size="21.09" text-anchor="middle" fill="#0d0d0d" transform="translate(943.6 506.8) scale(1.01 1)" >30</text>
<line x1="985" y1="482.2" x2="985" y2="477.9" stroke="#2e2e2e" stroke-width="1.5" />
<line x1="1026.4" y1="482.2" x2="1026.4" y2="474.4" stroke="#2e2e2e" stroke-width="1.5" />
<text font-size="21.09" text-anchor="middle" fill="#0d0d0d" transform="translate(1026.4 506.8) scale(1.01 1)" >40</text>
<line x1="1067.8" y1="482.2" x2="1067.8" y2="477.9" stroke="#2e2e2e" stroke-width="1.5" />
<line x1="1109.2" y1="482.2" x2="1109.2" y2="474.4" stroke="#2e2e2e" stroke-width="1.5" />
<text font-size="21.09" text-anchor="middle" fill="#0d0d0d" transform="translate(1109.2 506.8) scale(1.01 1)" >50</text>
<line x1="1150.6" y1="482.2" x2="1150.6" y2="477.9" stroke="#2e2e2e" stroke-width="1.5" />
<line x1="1192" y1="482.2" x2="1192" y2="474.4" stroke="#2e2e2e" stroke-width="1.5" />
<text font-size="21.09" text-anchor="middle" fill="#0d0d0d" transform="translate(1192 506.8) scale(1.01 1)" >60</text>
<line x1="1233.4" y1="482.2" x2="1233.4" y2="477.9" stroke="#2e2e2e" stroke-width="1.5" />
<line x1="1274.8" y1="482.2" x2="1274.8" y2="474.4" stroke="#2e2e2e" stroke-width="1.5" />
<text font-size="21.09" text-anchor="middle" fill="#0d0d0d" transform="translate(1274.8 506.8) scale(1.01 1)" >70</text>
<line x1="1316.2" y1="482.2" x2="1316.2" y2="477.9" stroke="#2e2e2e" stroke-width="1.5" />
<line x1="1357.6" y1="482.2" x2="1357.6" y2="474.4" stroke="#2e2e2e" stroke-width="1.5" />
<text font-size="21.09" text-anchor="middle" fill="#0d0d0d" transform="translate(1357.6 506.8) scale(1.01 1)" >80</text>
<line x1="1399" y1="482.2" x2="1399" y2="477.9" stroke="#2e2e2e" stroke-width="1.5" />
<text font-size="23.65" text-anchor="middle" fill="#0d0d0d" transform="translate(740.2 242.5) rotate(-90) scale(1.04 1)" >Intensity (a.u)</text>
<text font-size="24.04" text-anchor="start" fill="#0d0d0d" transform="translate(1024.3 545) scale(1.04 1)" >2<tspan font-family="Liberation Serif, serif" font-size="26">&#952;</tspan> (degree)</text>
<text font-size="28.85" text-anchor="start" fill="#0d0d0d" transform="translate(781.1 55.2) scale(1.04 1)" >(b)</text>
<text font-size="21.15" text-anchor="middle" fill="#0d0d0d" transform="translate(1055 80) scale(1.04 1)" >NiO</text>
<text font-size="21.15" text-anchor="middle" fill="#0d0d0d" transform="translate(1054.5 113.8) scale(1.04 1)" >43.36&#176;</text>
<text font-size="21.15" text-anchor="middle" fill="#0d0d0d" transform="translate(990.7 151.8) scale(1.04 1)" >NiO</text>
<text font-size="21.15" text-anchor="middle" fill="#0d0d0d" transform="translate(992 182) scale(1.04 1)" >37.27&#176;</text>
<text font-size="21.15" text-anchor="middle" fill="#0d0d0d" transform="translate(1206.3 242.5) scale(1.04 1)" >NiO</text>
<text font-size="21.15" text-anchor="middle" fill="#0d0d0d" transform="translate(1205 269.6) scale(1.04 1)" >62.56&#176;</text>
<text font-size="21.15" text-anchor="middle" fill="#0d0d0d" transform="translate(1332.3 272.8) scale(1.04 1)" >NiO</text>
<text font-size="21.15" text-anchor="middle" fill="#0d0d0d" transform="translate(871 252.5) scale(1.04 1)" >Pbp</text>
<text font-size="21.15" text-anchor="middle" fill="#0d0d0d" transform="translate(868 282.5) scale(1.04 1)" >14&#176;-30&#176;</text>
<text font-size="21.15" text-anchor="start" fill="#0d0d0d" transform="translate(1323.9 329) rotate(-90) scale(1.04 1)" >74.9&#176;</text>
<text font-size="21.15" text-anchor="start" fill="#0d0d0d" transform="translate(1351.1 344.2) rotate(-90) scale(1.04 1)" >78.7&#176;</text>
<text font-size="24.04" text-anchor="start" fill="#0d0d0d" transform="translate(1271.3 399.3) scale(1.04 1)" >Pbp@NiO</text>
<text font-size="24.04" text-anchor="start" fill="#0d0d0d" transform="translate(1129.8 468) scale(1.04 1)" >Pure Pbp</text>
<polyline points="50.5,805 51,790 51.75,777 54.25,776.25 56.75,776.25 57.5,760 58.5,750 59.25,748.75 60,730" fill="none" stroke="#424242" stroke-width="3.1" stroke-linejoin="round" stroke-linecap="round" />
<path d="M60 730 C60.17 727.08 60.58 716.46 61 712.5 C61.42 708.54 61.96 706.88 62.5 706.25 C63.04 705.62 63.54 706.88 64.25 708.75 C64.96 710.62 65.71 713.96 66.75 717.5 C67.79 721.04 69.46 726.67 70.5 730 C71.54 733.33 72.17 734.17 73 737.5 C73.83 740.83 74.67 746.25 75.5 750 C76.33 753.75 77.17 757.29 78 760 C78.83 762.71 79.67 764.79 80.5 766.25 C81.33 767.71 82.17 768.96 83 768.75 C83.83 768.54 84.67 767.08 85.5 765 C86.33 762.92 87.17 760 88 756.25 C88.83 752.5 89.67 747.29 90.5 742.5 C91.33 737.71 92.25 731.88 93 727.5 C93.75 723.12 94.46 719.08 95 716.25 C95.54 713.42 95.86 711.75 96.25 710.5 C96.64 709.25 96.97 708.67 97.35 708.75 C97.72 708.83 98.14 709.46 98.5 711 C98.86 712.54 99.17 714 99.5 718 C99.83 722 100 728.83 100.5 735 C101 741.17 101.88 749.79 102.5 755 C103.12 760.21 103.54 763.33 104.25 766.25 C104.96 769.17 105.92 771.12 106.75 772.5 C107.58 773.88 108.21 774.29 109.25 774.5 C110.29 774.71 111.96 773.75 113 773.75 C114.04 773.75 114.46 774.5 115.5 774.5 C116.54 774.5 118.33 774.5 119.25 773.75 C120.17 773 120.46 771.25 121 770 C121.54 768.75 121.96 767 122.5 766.25 C123.04 765.5 123.67 764.88 124.25 765.5 C124.83 766.12 125.46 768.42 126 770 C126.54 771.58 126.96 773.75 127.5 775 C128.04 776.25 128.75 775.83 129.25 777.5 C129.75 779.17 130.08 781.25 130.5 785 C130.92 788.75 131.33 795 131.75 800 C132.17 805 132.58 810 133 815 C133.42 820 133.83 825.83 134.25 830 C134.67 834.17 135.08 837.08 135.5 840 C135.92 842.92 136.33 845.21 136.75 847.5 C137.17 849.79 137.38 851.88 138 853.75 C138.62 855.62 139.67 857.71 140.5 858.75 C141.33 859.79 142.17 860 143 860 C143.83 860 144.67 858.96 145.5 858.75 C146.33 858.54 147.17 858.12 148 858.75 C148.83 859.38 149.67 861.04 150.5 862.5 C151.33 863.96 152.17 866.17 153 867.5 C153.83 868.83 154.46 869.88 155.5 870.5 C156.54 871.12 158.21 870.92 159.25 871.25 C160.29 871.58 160.92 871.25 161.75 872.5 C162.58 873.75 163.62 876.17 164.25 878.75 C164.88 881.33 165.18 885.29 165.5 888 C165.82 890.71 165.58 890.5 166.2 895 C166.82 899.5 167.95 907.88 169.2 915 C170.45 922.12 172.1 931.82 173.7 937.7 C175.3 943.58 177.12 946.73 178.8 950.3 C180.48 953.87 181.92 957 183.8 959.1 C185.68 961.2 188.22 961.42 190.1 962.9 C191.98 964.38 193.22 966.53 195.1 968 C196.98 969.47 198.25 970.53 201.4 971.7 C204.55 972.87 207.7 973.95 214 975 C220.3 976.05 230.8 976.87 239.2 978 C247.6 979.13 256.85 980.95 264.4 981.8 C271.95 982.65 278.22 983.02 284.5 983.1 C290.78 983.18 294.97 982.82 302.1 982.3 C309.23 981.78 317.65 980.72 327.3 980 C336.95 979.28 350.35 978.58 360 978 C369.65 977.42 376.8 976.78 385.2 976.5 C393.6 976.22 402.02 976.13 410.4 976.3 C418.78 976.47 427.12 976.72 435.5 977.5 C443.88 978.28 452.3 979.57 460.7 981 C469.1 982.43 477.5 984.42 485.9 986.1 C494.3 987.78 502.72 989.6 511.1 991.1 C519.48 992.6 527.82 993.92 536.2 995.1 C544.58 996.28 553 997.27 561.4 998.2 C569.8 999.13 578.2 1000.03 586.6 1000.7 C595 1001.37 603.4 1001.92 611.8 1002.2 C620.2 1002.48 626.73 1002.48 637 1002.4 C647.27 1002.32 667.33 1001.82 673.4 1001.7" fill="none" stroke="#424242" stroke-width="3.1" stroke-linejoin="round" stroke-linecap="round"/>
<rect x="50.6" y="564.9" width="623.1" height="462.8" fill="none" stroke="#2e2e2e" stroke-width="1.6"/>
<line x1="76.7" y1="1027.7" x2="76.7" y2="1035.5" stroke="#2e2e2e" stroke-width="1.5" />
<text font-size="21.09" text-anchor="middle" fill="#0d0d0d" transform="translate(76.7 1058.1) scale(1.01 1)" >300</text>
<line x1="114" y1="1027.7" x2="114" y2="1031.7" stroke="#2e2e2e" stroke-width="1.5" />
<line x1="151.29" y1="1027.7" x2="151.29" y2="1035.5" stroke="#2e2e2e" stroke-width="1.5" />
<text font-size="21.09" text-anchor="middle" fill="#0d0d0d" transform="translate(151.29 1058.1) scale(1.01 1)" >400</text>
<line x1="188.59" y1="1027.7" x2="188.59" y2="1031.7" stroke="#2e2e2e" stroke-width="1.5" />
<line x1="225.88" y1="1027.7" x2="225.88" y2="1035.5" stroke="#2e2e2e" stroke-width="1.5" />
<text font-size="21.09" text-anchor="middle" fill="#0d0d0d" transform="translate(225.88 1058.1) scale(1.01 1)" >500</text>
<line x1="263.18" y1="1027.7" x2="263.18" y2="1031.7" stroke="#2e2e2e" stroke-width="1.5" />
<line x1="300.47" y1="1027.7" x2="300.47" y2="1035.5" stroke="#2e2e2e" stroke-width="1.5" />
<text font-size="21.09" text-anchor="middle" fill="#0d0d0d" transform="translate(300.47 1058.1) scale(1.01 1)" >600</text>
<line x1="337.76" y1="1027.7" x2="337.76" y2="1031.7" stroke="#2e2e2e" stroke-width="1.5" />
<line x1="375.06" y1="1027.7" x2="375.06" y2="1035.5" stroke="#2e2e2e" stroke-width="1.5" />
<text font-size="21.09" text-anchor="middle" fill="#0d0d0d" transform="translate(375.06 1058.1) scale(1.01 1)" >700</text>
<line x1="412.36" y1="1027.7" x2="412.36" y2="1031.7" stroke="#2e2e2e" stroke-width="1.5" />
<line x1="449.65" y1="1027.7" x2="449.65" y2="1035.5" stroke="#2e2e2e" stroke-width="1.5" />
<text font-size="21.09" text-anchor="middle" fill="#0d0d0d" transform="translate(449.65 1058.1) scale(1.01 1)" >800</text>
<line x1="486.94" y1="1027.7" x2="486.94" y2="1031.7" stroke="#2e2e2e" stroke-width="1.5" />
<line x1="524.24" y1="1027.7" x2="524.24" y2="1035.5" stroke="#2e2e2e" stroke-width="1.5" />
<text font-size="21.09" text-anchor="middle" fill="#0d0d0d" transform="translate(524.24 1058.1) scale(1.01 1)" >900</text>
<line x1="561.53" y1="1027.7" x2="561.53" y2="1031.7" stroke="#2e2e2e" stroke-width="1.5" />
<line x1="598.83" y1="1027.7" x2="598.83" y2="1035.5" stroke="#2e2e2e" stroke-width="1.5" />
<text font-size="21.09" text-anchor="middle" fill="#0d0d0d" transform="translate(598.83 1058.1) scale(1.01 1)" >1000</text>
<line x1="636.12" y1="1027.7" x2="636.12" y2="1031.7" stroke="#2e2e2e" stroke-width="1.5" />
<line x1="673.42" y1="1027.7" x2="673.42" y2="1035.5" stroke="#2e2e2e" stroke-width="1.5" />
<text font-size="21.09" text-anchor="middle" fill="#0d0d0d" transform="translate(673.42 1058.1) scale(1.01 1)" >1100</text>
<text font-size="24.04" text-anchor="middle" fill="#0d0d0d" transform="translate(31 785.5) rotate(-90) scale(1.04 1)" >Absorbance (a.u)</text>
<text font-size="24.04" text-anchor="start" fill="#0d0d0d" transform="translate(266.5 1093) scale(1.04 1)" >Wavelength (nm)</text>
<text font-size="28.85" text-anchor="start" fill="#0d0d0d" transform="translate(61.2 604.1) scale(1.04 1)" >(c)</text>
<text font-size="21.25" text-anchor="start" fill="#0d0d0d" transform="translate(81.8 659.5) scale(1.04 1)" >pi-pi* transition</text>
<text font-size="21.25" text-anchor="start" fill="#0d0d0d" transform="translate(142.8 703.8) scale(1.04 1)" >n-pi* transition</text>
<text font-size="21.25" text-anchor="start" fill="#0d0d0d" transform="translate(189 752.5) scale(1.04 1)" >Polaronic excitation</text>
<polygon points="63.3,704.3 71.88,685.95 80.21,693.14" fill="#000"/>
<line x1="91.8" y1="671.3" x2="74.74" y2="691.06" stroke="#000" stroke-width="2.6" />
<polygon points="100.8,710 119.11,701.33 120.94,712.17" fill="#000"/>
<line x1="137.5" y1="703.8" x2="118.06" y2="707.08" stroke="#000" stroke-width="2.6" />
<polygon points="133,771.3 147.7,757.35 152.82,767.09" fill="#000"/>
<line x1="177.3" y1="748" x2="148.49" y2="763.15" stroke="#000" stroke-width="2.6" />
<path d="M782 643.75 C782.29 645.21 783.04 649.58 783.75 652.5 C784.46 655.42 785.42 658.54 786.25 661.25 C787.08 663.96 787.92 666.54 788.75 668.75 C789.58 670.96 790.21 672.71 791.25 674.5 C792.29 676.29 793.54 678.04 795 679.5 C796.46 680.96 797.92 682 800 683.25 C802.08 684.5 805 685.96 807.5 687 C810 688.04 812.08 688.79 815 689.5 C817.92 690.21 821.67 690.54 825 691.25 C828.33 691.96 832.08 693.12 835 693.75 C837.92 694.38 840 694.29 842.5 695 C845 695.71 846.67 696.75 850 698 C853.33 699.25 858.33 701.12 862.5 702.5 C866.67 703.88 870.83 705.08 875 706.25 C879.17 707.42 883.33 708.46 887.5 709.5 C891.67 710.54 895.83 711.5 900 712.5 C904.17 713.5 908.33 714.54 912.5 715.5 C916.67 716.46 920.83 717.42 925 718.25 C929.17 719.08 933.33 719.79 937.5 720.5 C941.67 721.21 945.83 721.83 950 722.5 C954.17 723.17 958.33 723.75 962.5 724.5 C966.67 725.25 970.83 726.08 975 727 C979.17 727.92 983.33 728.96 987.5 730 C991.67 731.04 995.83 732.08 1000 733.25 C1004.17 734.42 1008.33 735.79 1012.5 737 C1016.67 738.21 1020.83 739.25 1025 740.5 C1029.17 741.75 1033.33 743.12 1037.5 744.5 C1041.67 745.88 1045.83 747.29 1050 748.75 C1054.17 750.21 1058.33 751.71 1062.5 753.25 C1066.67 754.79 1070.83 756.33 1075 758 C1079.17 759.67 1083.33 761.25 1087.5 763.25 C1091.67 765.25 1095.83 767.42 1100 770 C1104.17 772.58 1108.33 775.58 1112.5 778.75 C1116.67 781.92 1120.83 785.21 1125 789 C1129.17 792.79 1133.75 797.38 1137.5 801.5 C1141.25 805.62 1144.17 809.42 1147.5 813.75 C1150.83 818.08 1154.17 822.92 1157.5 827.5 C1160.83 832.08 1164.38 837.29 1167.5 841.25 C1170.62 845.21 1173.33 848.33 1176.25 851.25 C1179.17 854.17 1181.46 856.04 1185 858.75 C1188.54 861.46 1193.33 864.58 1197.5 867.5 C1201.67 870.42 1205.83 872.92 1210 876.25 C1214.17 879.58 1218.33 883.33 1222.5 887.5 C1226.67 891.67 1230.83 896.46 1235 901.25 C1239.17 906.04 1243.33 911.04 1247.5 916.25 C1251.67 921.46 1255.83 927.08 1260 932.5 C1264.17 937.92 1268.33 943.54 1272.5 948.75 C1276.67 953.96 1281.25 959.58 1285 963.75 C1288.75 967.92 1291.67 970.96 1295 973.75 C1298.33 976.54 1301.67 978.62 1305 980.5 C1308.33 982.38 1310.83 983.54 1315 985 C1319.17 986.46 1324.58 987.79 1330 989.25 C1335.42 990.71 1341.67 992.46 1347.5 993.75 C1353.33 995.04 1358.75 995.96 1365 997 C1371.25 998.04 1378.96 999.21 1385 1000 C1391.04 1000.79 1398.54 1001.46 1401.25 1001.75" fill="none" stroke="#3f3f3f" stroke-width="5" stroke-linejoin="round" stroke-linecap="round"/>
<path d="M782.5 638.8 H818.8 V650 M816 668 H845.8 V672 M845.5 689.6 H1176.6 V828 M1176.6 845.2 H1305 V960" fill="none" stroke="#118a8a" stroke-width="3.1" stroke-linejoin="miter"/>
<polygon points="818.2,668 812.7,647 823.7,647" fill="#118a8a"/>
<polygon points="845.3,690.5 839.8,671.5 850.8,671.5" fill="#118a8a"/>
<polygon points="1176.4,845.5 1170.9,824.5 1181.9,824.5" fill="#118a8a"/>
<polygon points="1305,976.5 1299.5,955.5 1310.5,955.5" fill="#118a8a"/>
<rect x="781.9" y="568.5" width="621.3" height="462.7" fill="none" stroke="#2e2e2e" stroke-width="1.6"/>
<line x1="805.87" y1="1031.2" x2="805.87" y2="1027.2" stroke="#2e2e2e" stroke-width="1.5" />
<line x1="805.87" y1="568.5" x2="805.87" y2="564.5" stroke="#2e2e2e" stroke-width="1.5" />
<line x1="845.7" y1="1031.2" x2="845.7" y2="1022.7" stroke="#2e2e2e" stroke-width="1.5" />
<line x1="845.7" y1="568.5" x2="845.7" y2="560.7" stroke="#2e2e2e" stroke-width="1.5" />
<text font-size="21.09" text-anchor="middle" fill="#0d0d0d" transform="translate(845.7 1057.3) scale(1.01 1)" >100</text>
<line x1="885.53" y1="1031.2" x2="885.53" y2="1027.2" stroke="#2e2e2e" stroke-width="1.5" />
<line x1="885.53" y1="568.5" x2="885.53" y2="564.5" stroke="#2e2e2e" stroke-width="1.5" />
<line x1="925.36" y1="1031.2" x2="925.36" y2="1022.7" stroke="#2e2e2e" stroke-width="1.5" />
<line x1="925.36" y1="568.5" x2="925.36" y2="560.7" stroke="#2e2e2e" stroke-width="1.5" />
<text font-size="21.09" text-anchor="middle" fill="#0d0d0d" transform="translate(925.36 1057.3) scale(1.01 1)" >200</text>
<line x1="965.19" y1="1031.2" x2="965.19" y2="1027.2" stroke="#2e2e2e" stroke-width="1.5" />
<line x1="965.19" y1="568.5" x2="965.19" y2="564.5" stroke="#2e2e2e" stroke-width="1.5" />
<line x1="1005.02" y1="1031.2" x2="1005.02" y2="1022.7" stroke="#2e2e2e" stroke-width="1.5" />
<line x1="1005.02" y1="568.5" x2="1005.02" y2="560.7" stroke="#2e2e2e" stroke-width="1.5" />
<text font-size="21.09" text-anchor="middle" fill="#0d0d0d" transform="translate(1005.02 1057.3) scale(1.01 1)" >300</text>
<line x1="1044.85" y1="1031.2" x2="1044.85" y2="1027.2" stroke="#2e2e2e" stroke-width="1.5" />
<line x1="1044.85" y1="568.5" x2="1044.85" y2="564.5" stroke="#2e2e2e" stroke-width="1.5" />
<line x1="1084.68" y1="1031.2" x2="1084.68" y2="1022.7" stroke="#2e2e2e" stroke-width="1.5" />
<line x1="1084.68" y1="568.5" x2="1084.68" y2="560.7" stroke="#2e2e2e" stroke-width="1.5" />
<text font-size="21.09" text-anchor="middle" fill="#0d0d0d" transform="translate(1084.68 1057.3) scale(1.01 1)" >400</text>
<line x1="1124.51" y1="1031.2" x2="1124.51" y2="1027.2" stroke="#2e2e2e" stroke-width="1.5" />
<line x1="1124.51" y1="568.5" x2="1124.51" y2="564.5" stroke="#2e2e2e" stroke-width="1.5" />
<line x1="1164.34" y1="1031.2" x2="1164.34" y2="1022.7" stroke="#2e2e2e" stroke-width="1.5" />
<line x1="1164.34" y1="568.5" x2="1164.34" y2="560.7" stroke="#2e2e2e" stroke-width="1.5" />
<text font-size="21.09" text-anchor="middle" fill="#0d0d0d" transform="translate(1164.34 1057.3) scale(1.01 1)" >500</text>
<line x1="1204.17" y1="1031.2" x2="1204.17" y2="1027.2" stroke="#2e2e2e" stroke-width="1.5" />
<line x1="1204.17" y1="568.5" x2="1204.17" y2="564.5" stroke="#2e2e2e" stroke-width="1.5" />
<line x1="1244" y1="1031.2" x2="1244" y2="1022.7" stroke="#2e2e2e" stroke-width="1.5" />
<line x1="1244" y1="568.5" x2="1244" y2="560.7" stroke="#2e2e2e" stroke-width="1.5" />
<text font-size="21.09" text-anchor="middle" fill="#0d0d0d" transform="translate(1244 1057.3) scale(1.01 1)" >600</text>
<line x1="1283.83" y1="1031.2" x2="1283.83" y2="1027.2" stroke="#2e2e2e" stroke-width="1.5" />
<line x1="1283.83" y1="568.5" x2="1283.83" y2="564.5" stroke="#2e2e2e" stroke-width="1.5" />
<line x1="1323.66" y1="1031.2" x2="1323.66" y2="1022.7" stroke="#2e2e2e" stroke-width="1.5" />
<line x1="1323.66" y1="568.5" x2="1323.66" y2="560.7" stroke="#2e2e2e" stroke-width="1.5" />
<text font-size="21.09" text-anchor="middle" fill="#0d0d0d" transform="translate(1323.66 1057.3) scale(1.01 1)" >700</text>
<line x1="1363.49" y1="1031.2" x2="1363.49" y2="1027.2" stroke="#2e2e2e" stroke-width="1.5" />
<line x1="1363.49" y1="568.5" x2="1363.49" y2="564.5" stroke="#2e2e2e" stroke-width="1.5" />
<line x1="1403.32" y1="1031.2" x2="1403.32" y2="1022.7" stroke="#2e2e2e" stroke-width="1.5" />
<line x1="1403.32" y1="568.5" x2="1403.32" y2="560.7" stroke="#2e2e2e" stroke-width="1.5" />
<text font-size="21.09" text-anchor="middle" fill="#0d0d0d" transform="translate(1403.32 1057.3) scale(1.01 1)" >800</text>
<line x1="781.9" y1="1012.5" x2="789.9" y2="1012.5" stroke="#2e2e2e" stroke-width="1.5" />
<text font-size="21.09" text-anchor="end" fill="#0d0d0d" transform="translate(773.3 1018.5) scale(1.01 1)" >80</text>
<line x1="781.9" y1="966.2" x2="786.1" y2="966.2" stroke="#2e2e2e" stroke-width="1.5" />
<line x1="781.9" y1="919.9" x2="789.9" y2="919.9" stroke="#2e2e2e" stroke-width="1.5" />
<text font-size="21.09" text-anchor="end" fill="#0d0d0d" transform="translate(773.3 925.9) scale(1.01 1)" >85</text>
<line x1="781.9" y1="873.6" x2="786.1" y2="873.6" stroke="#2e2e2e" stroke-width="1.5" />
<line x1="781.9" y1="827.3" x2="789.9" y2="827.3" stroke="#2e2e2e" stroke-width="1.5" />
<text font-size="21.09" text-anchor="end" fill="#0d0d0d" transform="translate(773.3 833.3) scale(1.01 1)" >90</text>
<line x1="781.9" y1="781" x2="786.1" y2="781" stroke="#2e2e2e" stroke-width="1.5" />
<line x1="781.9" y1="734.7" x2="789.9" y2="734.7" stroke="#2e2e2e" stroke-width="1.5" />
<text font-size="21.09" text-anchor="end" fill="#0d0d0d" transform="translate(773.3 740.7) scale(1.01 1)" >95</text>
<line x1="781.9" y1="688.4" x2="786.1" y2="688.4" stroke="#2e2e2e" stroke-width="1.5" />
<line x1="781.9" y1="642.1" x2="789.9" y2="642.1" stroke="#2e2e2e" stroke-width="1.5" />
<text font-size="21.09" text-anchor="end" fill="#0d0d0d" transform="translate(773.3 648.1) scale(1.01 1)" >100</text>
<line x1="781.9" y1="595.8" x2="786.1" y2="595.8" stroke="#2e2e2e" stroke-width="1.5" />
<text font-size="23.85" text-anchor="middle" fill="#0d0d0d" transform="translate(733.7 780.2) rotate(-90) scale(1.04 1)" >Weight (%)</text>
<text font-size="24.33" text-anchor="start" fill="#0d0d0d" transform="translate(986.3 1082) scale(1.04 1)" >Temperature (&#176;C)</text>
<text font-size="28.85" text-anchor="start" fill="#0d0d0d" transform="translate(795.1 609.1) scale(1.04 1)" >(d)</text>
<text font-size="22.6" text-anchor="start" fill="#0d0d0d" transform="translate(827.5 658) scale(1.04 1)" >I</text>
<text font-size="22.6" text-anchor="start" fill="#0d0d0d" transform="translate(864 682.5) scale(1.04 1)" >II</text>
<text font-size="22.6" text-anchor="start" fill="#0d0d0d" transform="translate(1185 778.8) scale(1.04 1)" >III</text>
<text font-size="22.6" text-anchor="start" fill="#0d0d0d" transform="translate(1312 925) scale(1.04 1)" >IV</text>
</svg>
</body>
</html>
